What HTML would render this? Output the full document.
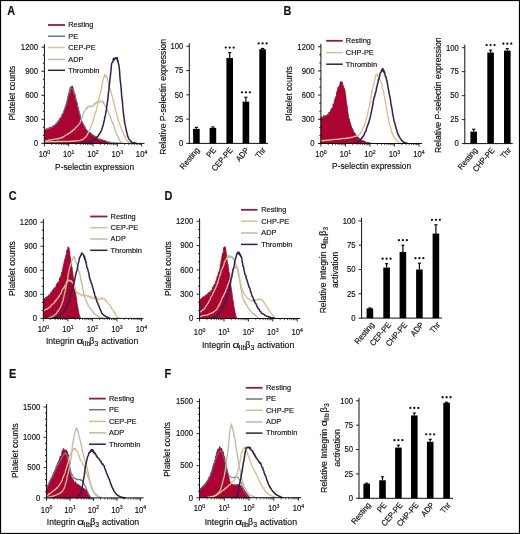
<!DOCTYPE html>
<html><head><meta charset="utf-8"><style>
html,body{margin:0;padding:0;background:#fff;}
svg{display:block;filter:blur(0.3px);}
text{font-family:"Liberation Sans", sans-serif;fill:#111;stroke:#111;stroke-width:0.16px;}
</style></head><body>
<svg width="520" height="534" viewBox="0 0 520 534">
<rect x="0" y="0" width="520" height="534" fill="#fff"/>
<path d="M44.40,129.37 L44.88,129.75 L45.37,129.05 L45.85,129.29 L46.33,128.73 L46.81,128.58 L47.30,129.56 L47.78,129.55 L48.26,127.80 L48.74,128.80 L49.23,128.70 L49.71,127.01 L50.19,127.87 L50.67,126.92 L51.16,127.42 L51.64,126.84 L52.12,127.59 L52.60,126.30 L53.09,125.51 L53.57,125.92 L54.05,125.13 L54.53,124.92 L55.02,125.85 L55.50,123.90 L55.98,123.80 L56.46,123.96 L56.95,124.07 L57.43,121.59 L57.91,121.93 L58.39,120.76 L58.88,119.76 L59.36,119.52 L59.84,118.32 L60.32,118.92 L60.81,117.11 L61.29,117.22 L61.77,115.04 L62.25,114.25 L62.74,115.40 L63.22,114.20 L63.70,112.74 L64.18,109.21 L64.67,109.32 L65.15,107.24 L65.63,106.65 L66.11,104.23 L66.60,102.72 L67.08,100.88 L67.56,98.15 L68.04,96.31 L68.53,93.51 L69.01,92.76 L69.49,90.22 L69.97,88.86 L70.46,86.90 L70.94,87.01 L71.42,88.37 L71.90,85.75 L72.39,86.00 L72.87,87.29 L73.35,89.85 L73.83,90.70 L74.32,93.93 L74.80,93.46 L75.28,96.39 L75.76,99.48 L76.25,102.25 L76.73,101.50 L77.21,102.87 L77.69,107.46 L78.18,107.01 L78.66,109.94 L79.14,112.46 L79.62,113.93 L80.11,114.64 L80.59,116.39 L81.07,120.33 L81.55,120.44 L82.04,123.04 L82.52,122.57 L83.00,124.44 L83.48,124.12 L83.97,124.74 L84.45,126.56 L84.93,126.32 L85.41,128.47 L85.90,129.62 L86.38,129.27 L86.86,130.95 L87.35,131.19 L87.83,131.31 L88.31,131.40 L88.79,132.59 L89.28,133.15 L89.76,132.12 L90.24,133.37 L90.72,132.64 L91.21,133.07 L91.69,134.21 L92.17,134.40 L92.65,134.65 L93.14,134.82 L93.62,135.26 L94.10,135.68 L94.58,135.97 L95.07,135.91 L95.55,136.85 L96.03,137.30 L96.51,137.26 L97.00,138.16 L97.48,138.35 L97.96,137.82 L98.44,138.55 L98.93,138.71 L99.41,139.46 L99.89,139.19 L100.37,139.16 L100.86,139.88 L101.34,139.41 L101.82,139.53 L102.30,140.23 L102.79,139.83 L103.27,140.14 L103.75,140.12 L104.23,140.60 L104.72,140.51 L105.20,140.73 L105.68,141.53 L106.16,141.73 L106.65,141.54 L107.13,141.60 L107.61,142.25 L108.09,142.31 L108.58,142.40 L109.06,142.68 L109.54,142.80 L110.02,142.94 L110.51,143.05 L110.99,143.11 L111.47,143.30 L111.95,143.40 L111.95,143.40 L44.40,143.40 Z" fill="#ab0432" stroke="#8a0f2c" stroke-width="0.8"/>
<path d="M44.40,129.77 L44.96,129.74 L45.51,129.08 L46.07,129.87 L46.62,129.02 L47.18,128.65 L47.73,129.04 L48.29,129.00 L48.84,128.07 L49.40,128.63 L49.95,128.51 L50.51,127.97 L51.07,127.38 L51.62,127.94 L52.18,127.35 L52.73,127.00 L53.29,125.93 L53.84,126.08 L54.40,125.03 L54.95,125.53 L55.51,124.76 L56.06,123.74 L56.62,122.79 L57.17,122.83 L57.73,122.53 L58.29,122.03 L58.84,120.67 L59.40,120.48 L59.95,118.61 L60.51,117.59 L61.06,117.69 L61.62,116.41 L62.17,114.27 L62.73,113.31 L63.28,111.68 L63.84,111.20 L64.40,110.23 L64.95,108.48 L65.51,105.97 L66.06,105.30 L66.62,103.15 L67.17,100.89 L67.73,98.78 L68.28,96.83 L68.84,93.85 L69.39,93.77 L69.95,92.27 L70.51,88.45 L71.06,87.92 L71.62,87.82 L72.17,89.79 L72.73,89.43 L73.28,90.65 L73.84,93.66 L74.39,93.77 L74.95,94.92 L75.50,96.93 L76.06,99.13 L76.61,101.72 L77.17,103.81 L77.73,106.33 L78.28,108.92 L78.84,110.11 L79.39,112.83 L79.95,114.14 L80.50,117.81 L81.06,118.46 L81.61,120.57 L82.17,121.62 L82.72,122.90 L83.28,123.99 L83.84,125.44 L84.39,127.15 L84.95,127.01 L85.50,128.62 L86.06,129.24 L86.61,129.51 L87.17,130.37 L87.72,131.13 L88.28,131.08 L88.83,131.99 L89.39,132.78 L89.95,133.34 L90.50,133.12 L91.06,133.95 L91.61,134.04 L92.17,134.88 L92.72,135.43 L93.28,135.51 L93.83,135.66 L94.39,136.66 L94.94,136.51 L95.50,136.79 L96.05,137.26 L96.61,137.60 L97.17,138.54 L97.72,138.33 L98.28,138.39 L98.83,139.18 L99.39,139.19 L99.94,139.35 L100.50,139.32 L101.05,139.54 L101.61,139.64 L102.16,139.57 L102.72,140.20 L103.28,140.30 L103.83,140.39 L104.39,140.54 L104.94,140.73 L105.50,140.37 L106.05,140.61 L106.61,141.19 L107.16,141.14 L107.72,141.40 L108.27,141.56 L108.83,141.70 L109.39,141.72 L109.94,141.89 L110.50,142.12 L111.05,142.30 L111.61,142.36 L112.16,142.52 L112.72,142.46 L113.27,142.48 L113.83,142.66 L114.38,142.81 L114.94,142.84 L115.49,142.84 L116.05,142.83 L116.61,142.84 L117.16,142.99 L117.72,142.95 L118.27,143.03 L118.83,143.12 L119.38,143.17 L119.94,143.20 L120.49,143.22 L121.05,143.30 L121.60,143.33 L122.16,143.40" fill="none" stroke="#6c7290" stroke-width="1.0" stroke-linejoin="round"/>
<path d="M44.40,141.15 L44.96,141.06 L45.52,141.07 L46.08,140.80 L46.64,140.61 L47.19,140.86 L47.75,140.56 L48.31,140.46 L48.87,140.09 L49.43,139.95 L49.99,140.20 L50.55,139.78 L51.11,139.74 L51.67,139.98 L52.22,139.75 L52.78,139.88 L53.34,139.32 L53.90,139.31 L54.46,139.05 L55.02,139.00 L55.58,138.98 L56.14,138.81 L56.70,138.81 L57.25,139.02 L57.81,138.54 L58.37,138.84 L58.93,138.60 L59.49,137.97 L60.05,138.38 L60.61,138.19 L61.17,138.03 L61.73,137.21 L62.28,137.59 L62.84,137.50 L63.40,136.55 L63.96,136.91 L64.52,135.97 L65.08,135.81 L65.64,135.32 L66.20,134.85 L66.76,134.85 L67.31,134.25 L67.87,134.65 L68.43,133.49 L68.99,133.35 L69.55,132.71 L70.11,132.97 L70.67,131.82 L71.23,131.16 L71.79,131.76 L72.34,131.01 L72.90,130.26 L73.46,129.46 L74.02,129.72 L74.58,129.30 L75.14,128.68 L75.70,127.65 L76.26,126.88 L76.82,126.77 L77.38,126.17 L77.93,125.47 L78.49,124.83 L79.05,124.00 L79.61,123.73 L80.17,122.23 L80.73,120.33 L81.29,119.85 L81.85,117.75 L82.41,117.17 L82.96,114.65 L83.52,113.05 L84.08,111.92 L84.64,111.21 L85.20,110.35 L85.76,109.14 L86.32,107.81 L86.88,108.61 L87.44,108.17 L87.99,106.46 L88.55,105.92 L89.11,106.60 L89.67,106.65 L90.23,106.00 L90.79,107.00 L91.35,106.72 L91.91,106.69 L92.47,105.61 L93.02,105.81 L93.58,105.56 L94.14,104.14 L94.70,103.15 L95.26,104.15 L95.82,102.85 L96.38,103.05 L96.94,101.68 L97.50,101.90 L98.05,102.31 L98.61,102.18 L99.17,102.37 L99.73,101.16 L100.29,101.20 L100.85,101.57 L101.41,101.14 L101.97,101.52 L102.53,101.10 L103.08,103.20 L103.64,102.11 L104.20,104.16 L104.76,105.04 L105.32,106.49 L105.88,106.86 L106.44,107.99 L107.00,109.62 L107.56,110.88 L108.11,111.58 L108.67,112.55 L109.23,114.68 L109.79,115.42 L110.35,116.44 L110.91,118.73 L111.47,120.58 L112.03,122.03 L112.59,122.76 L113.14,124.32 L113.70,125.47 L114.26,127.24 L114.82,129.65 L115.38,131.28 L115.94,132.70 L116.50,134.17 L117.06,134.93 L117.62,136.06 L118.17,137.26 L118.73,138.91 L119.29,139.53 L119.85,140.76 L120.41,141.42 L120.97,141.87 L121.53,142.59 L122.09,143.01 L122.65,143.40" fill="none" stroke="#b9c0a0" stroke-width="1.35" stroke-linejoin="round"/>
<path d="M44.40,141.80 L45.02,141.64 L45.63,141.87 L46.25,141.83 L46.86,141.72 L47.48,141.67 L48.10,141.96 L48.71,141.80 L49.33,141.75 L49.95,141.72 L50.56,141.84 L51.18,141.66 L51.79,141.49 L52.41,141.73 L53.03,141.66 L53.64,141.84 L54.26,141.76 L54.88,141.58 L55.49,141.82 L56.11,141.46 L56.72,141.44 L57.34,141.80 L57.96,141.41 L58.57,141.66 L59.19,141.47 L59.80,141.47 L60.42,141.67 L61.04,141.48 L61.65,141.48 L62.27,141.40 L62.89,141.64 L63.50,141.40 L64.12,141.29 L64.73,141.41 L65.35,141.46 L65.97,141.65 L66.58,141.45 L67.20,141.51 L67.81,141.31 L68.43,141.32 L69.05,141.35 L69.66,141.52 L70.28,141.27 L70.90,141.24 L71.51,141.43 L72.13,141.04 L72.74,141.11 L73.36,141.33 L73.98,140.86 L74.59,141.22 L75.21,141.06 L75.83,140.78 L76.44,140.78 L77.06,140.73 L77.67,140.59 L78.29,140.62 L78.91,140.61 L79.52,140.60 L80.14,140.57 L80.75,140.08 L81.37,139.91 L81.99,139.80 L82.60,139.35 L83.22,139.21 L83.84,138.83 L84.45,138.24 L85.07,137.29 L85.68,137.40 L86.30,136.30 L86.92,135.61 L87.53,133.99 L88.15,133.19 L88.76,131.91 L89.38,130.47 L90.00,128.87 L90.61,127.04 L91.23,126.01 L91.85,123.59 L92.46,122.94 L93.08,120.86 L93.69,119.26 L94.31,117.30 L94.93,114.10 L95.54,112.11 L96.16,110.97 L96.78,108.64 L97.39,105.72 L98.01,102.48 L98.62,99.69 L99.24,97.19 L99.86,94.91 L100.47,93.39 L101.09,90.14 L101.70,87.50 L102.32,83.22 L102.94,79.83 L103.55,78.11 L104.17,76.19 L104.79,74.21 L105.40,76.72 L106.02,75.47 L106.63,76.57 L107.25,78.11 L107.87,81.60 L108.48,83.29 L109.10,85.45 L109.71,87.59 L110.33,88.95 L110.95,91.75 L111.56,94.72 L112.18,95.61 L112.80,98.82 L113.41,100.99 L114.03,103.22 L114.64,107.26 L115.26,108.20 L115.88,110.91 L116.49,113.63 L117.11,115.87 L117.73,118.13 L118.34,120.54 L118.96,121.85 L119.57,124.41 L120.19,125.46 L120.81,126.96 L121.42,128.85 L122.04,130.26 L122.65,131.29 L123.27,132.79 L123.89,134.90 L124.50,135.51 L125.12,136.89 L125.74,138.52 L126.35,139.35 L126.97,140.40 L127.58,141.30 L128.20,141.75 L128.82,142.12 L129.43,142.72 L130.05,142.95 L130.66,143.40" fill="none" stroke="#dcbc92" stroke-width="1.35" stroke-linejoin="round"/>
<path d="M80.85,143.40 L81.25,143.32 L81.65,143.32 L82.05,143.16 L82.45,143.14 L82.85,143.02 L83.25,143.01 L83.64,142.94 L84.04,142.98 L84.44,142.82 L84.84,142.73 L85.24,142.69 L85.64,142.75 L86.04,142.60 L86.44,142.62 L86.84,142.67 L87.24,142.64 L87.64,142.56 L88.04,142.46 L88.44,142.40 L88.83,142.20 L89.23,142.04 L89.63,142.01 L90.03,141.96 L90.43,141.77 L90.83,141.80 L91.23,141.58 L91.63,141.26 L92.03,141.21 L92.43,141.09 L92.83,140.42 L93.23,140.22 L93.62,140.12 L94.02,139.79 L94.42,139.35 L94.82,138.95 L95.22,138.86 L95.62,138.67 L96.02,138.13 L96.42,137.26 L96.82,137.37 L97.22,136.65 L97.62,136.42 L98.02,135.92 L98.42,135.44 L98.81,134.66 L99.21,134.32 L99.61,133.87 L100.01,133.14 L100.41,132.39 L100.81,131.29 L101.21,131.05 L101.61,130.25 L102.01,128.68 L102.41,127.55 L102.81,125.81 L103.21,125.29 L103.61,123.18 L104.00,121.50 L104.40,120.32 L104.80,116.85 L105.20,116.19 L105.60,114.42 L106.00,111.52 L106.40,109.63 L106.80,105.94 L107.20,103.54 L107.60,100.88 L108.00,97.78 L108.40,92.81 L108.79,90.48 L109.19,85.75 L109.59,83.19 L109.99,78.44 L110.39,76.05 L110.79,71.95 L111.19,68.11 L111.59,63.74 L111.99,62.83 L112.39,62.56 L112.79,62.41 L113.19,59.81 L113.59,58.24 L113.98,58.76 L114.38,59.93 L114.78,59.20 L115.18,58.48 L115.58,57.90 L115.98,58.28 L116.38,58.60 L116.78,57.47 L117.18,57.79 L117.58,61.31 L117.98,60.46 L118.38,63.64 L118.78,64.61 L119.17,67.20 L119.57,70.85 L119.97,77.63 L120.37,81.37 L120.77,85.11 L121.17,88.61 L121.57,94.64 L121.97,98.17 L122.37,101.15 L122.77,106.96 L123.17,110.50 L123.57,114.46 L123.97,117.31 L124.36,119.85 L124.76,123.36 L125.16,124.64 L125.56,126.71 L125.96,128.55 L126.36,130.76 L126.76,132.06 L127.16,134.24 L127.56,135.58 L127.96,136.96 L128.36,137.52 L128.76,138.58 L129.15,139.35 L129.55,139.95 L129.95,140.11 L130.35,140.64 L130.75,141.02 L131.15,141.55 L131.55,141.83 L131.95,142.25 L132.35,142.28 L132.75,142.70 L133.15,142.70 L133.55,142.74 L133.95,142.87 L134.34,143.08 L134.74,143.12 L135.14,143.07 L135.54,143.17 L135.94,143.21 L136.34,143.29 L136.74,143.40" fill="none" stroke="#30204a" stroke-width="1.5" stroke-linejoin="round"/>
<line x1="44.40" y1="44.16" x2="44.40" y2="143.90" stroke="#111" stroke-width="1.0"/>
<line x1="43.90" y1="143.40" x2="144.50" y2="143.40" stroke="#111" stroke-width="1.0"/>
<line x1="41.40" y1="143.40" x2="44.40" y2="143.40" stroke="#111" stroke-width="0.9"/>
<text transform="translate(38.00 146.20) scale(0.93 1)" font-size="8.3" text-anchor="end">0</text>
<line x1="42.80" y1="135.38" x2="44.40" y2="135.38" stroke="#111" stroke-width="0.9"/>
<line x1="42.80" y1="127.36" x2="44.40" y2="127.36" stroke="#111" stroke-width="0.9"/>
<line x1="41.40" y1="119.34" x2="44.40" y2="119.34" stroke="#111" stroke-width="0.9"/>
<text transform="translate(38.00 122.14) scale(0.93 1)" font-size="8.3" text-anchor="end">300</text>
<line x1="42.80" y1="111.32" x2="44.40" y2="111.32" stroke="#111" stroke-width="0.9"/>
<line x1="42.80" y1="103.30" x2="44.40" y2="103.30" stroke="#111" stroke-width="0.9"/>
<line x1="41.40" y1="95.28" x2="44.40" y2="95.28" stroke="#111" stroke-width="0.9"/>
<text transform="translate(38.00 98.08) scale(0.93 1)" font-size="8.3" text-anchor="end">600</text>
<line x1="42.80" y1="87.26" x2="44.40" y2="87.26" stroke="#111" stroke-width="0.9"/>
<line x1="42.80" y1="79.24" x2="44.40" y2="79.24" stroke="#111" stroke-width="0.9"/>
<line x1="41.40" y1="71.22" x2="44.40" y2="71.22" stroke="#111" stroke-width="0.9"/>
<text transform="translate(38.00 74.02) scale(0.93 1)" font-size="8.3" text-anchor="end">900</text>
<line x1="42.80" y1="63.20" x2="44.40" y2="63.20" stroke="#111" stroke-width="0.9"/>
<line x1="42.80" y1="55.18" x2="44.40" y2="55.18" stroke="#111" stroke-width="0.9"/>
<line x1="41.40" y1="47.16" x2="44.40" y2="47.16" stroke="#111" stroke-width="0.9"/>
<text transform="translate(38.00 49.96) scale(0.93 1)" font-size="8.3" text-anchor="end">1200</text>
<line x1="44.40" y1="143.40" x2="44.40" y2="146.40" stroke="#111" stroke-width="0.9"/>
<line x1="51.72" y1="143.40" x2="51.72" y2="145.10" stroke="#111" stroke-width="0.7"/>
<line x1="55.99" y1="143.40" x2="55.99" y2="145.10" stroke="#111" stroke-width="0.7"/>
<line x1="59.03" y1="143.40" x2="59.03" y2="145.10" stroke="#111" stroke-width="0.7"/>
<line x1="61.38" y1="143.40" x2="61.38" y2="145.10" stroke="#111" stroke-width="0.7"/>
<line x1="63.31" y1="143.40" x2="63.31" y2="145.10" stroke="#111" stroke-width="0.7"/>
<line x1="64.94" y1="143.40" x2="64.94" y2="145.10" stroke="#111" stroke-width="0.7"/>
<line x1="66.35" y1="143.40" x2="66.35" y2="145.10" stroke="#111" stroke-width="0.7"/>
<line x1="67.59" y1="143.40" x2="67.59" y2="145.10" stroke="#111" stroke-width="0.7"/>
<text transform="translate(44.40 156.80) scale(0.93 1)" font-size="8.3" text-anchor="middle">10<tspan font-size="5.6" dy="-3.3">0</tspan></text>
<line x1="68.70" y1="143.40" x2="68.70" y2="146.40" stroke="#111" stroke-width="0.9"/>
<line x1="76.02" y1="143.40" x2="76.02" y2="145.10" stroke="#111" stroke-width="0.7"/>
<line x1="80.29" y1="143.40" x2="80.29" y2="145.10" stroke="#111" stroke-width="0.7"/>
<line x1="83.33" y1="143.40" x2="83.33" y2="145.10" stroke="#111" stroke-width="0.7"/>
<line x1="85.68" y1="143.40" x2="85.68" y2="145.10" stroke="#111" stroke-width="0.7"/>
<line x1="87.61" y1="143.40" x2="87.61" y2="145.10" stroke="#111" stroke-width="0.7"/>
<line x1="89.24" y1="143.40" x2="89.24" y2="145.10" stroke="#111" stroke-width="0.7"/>
<line x1="90.65" y1="143.40" x2="90.65" y2="145.10" stroke="#111" stroke-width="0.7"/>
<line x1="91.89" y1="143.40" x2="91.89" y2="145.10" stroke="#111" stroke-width="0.7"/>
<text transform="translate(68.70 156.80) scale(0.93 1)" font-size="8.3" text-anchor="middle">10<tspan font-size="5.6" dy="-3.3">1</tspan></text>
<line x1="93.00" y1="143.40" x2="93.00" y2="146.40" stroke="#111" stroke-width="0.9"/>
<line x1="100.32" y1="143.40" x2="100.32" y2="145.10" stroke="#111" stroke-width="0.7"/>
<line x1="104.59" y1="143.40" x2="104.59" y2="145.10" stroke="#111" stroke-width="0.7"/>
<line x1="107.63" y1="143.40" x2="107.63" y2="145.10" stroke="#111" stroke-width="0.7"/>
<line x1="109.98" y1="143.40" x2="109.98" y2="145.10" stroke="#111" stroke-width="0.7"/>
<line x1="111.91" y1="143.40" x2="111.91" y2="145.10" stroke="#111" stroke-width="0.7"/>
<line x1="113.54" y1="143.40" x2="113.54" y2="145.10" stroke="#111" stroke-width="0.7"/>
<line x1="114.95" y1="143.40" x2="114.95" y2="145.10" stroke="#111" stroke-width="0.7"/>
<line x1="116.19" y1="143.40" x2="116.19" y2="145.10" stroke="#111" stroke-width="0.7"/>
<text transform="translate(93.00 156.80) scale(0.93 1)" font-size="8.3" text-anchor="middle">10<tspan font-size="5.6" dy="-3.3">2</tspan></text>
<line x1="117.30" y1="143.40" x2="117.30" y2="146.40" stroke="#111" stroke-width="0.9"/>
<line x1="124.62" y1="143.40" x2="124.62" y2="145.10" stroke="#111" stroke-width="0.7"/>
<line x1="128.89" y1="143.40" x2="128.89" y2="145.10" stroke="#111" stroke-width="0.7"/>
<line x1="131.93" y1="143.40" x2="131.93" y2="145.10" stroke="#111" stroke-width="0.7"/>
<line x1="134.28" y1="143.40" x2="134.28" y2="145.10" stroke="#111" stroke-width="0.7"/>
<line x1="136.21" y1="143.40" x2="136.21" y2="145.10" stroke="#111" stroke-width="0.7"/>
<line x1="137.84" y1="143.40" x2="137.84" y2="145.10" stroke="#111" stroke-width="0.7"/>
<line x1="139.25" y1="143.40" x2="139.25" y2="145.10" stroke="#111" stroke-width="0.7"/>
<line x1="140.49" y1="143.40" x2="140.49" y2="145.10" stroke="#111" stroke-width="0.7"/>
<text transform="translate(117.30 156.80) scale(0.93 1)" font-size="8.3" text-anchor="middle">10<tspan font-size="5.6" dy="-3.3">3</tspan></text>
<line x1="141.60" y1="143.40" x2="141.60" y2="146.40" stroke="#111" stroke-width="0.9"/>
<text transform="translate(141.60 156.80) scale(0.93 1)" font-size="8.3" text-anchor="middle">10<tspan font-size="5.6" dy="-3.3">4</tspan></text>
<text transform="translate(14.80 93.10) rotate(-90) scale(0.9 1)" font-size="9.3" text-anchor="middle">Platelet counts</text>
<text transform="translate(94.60 169.50) scale(0.895 1)" font-size="9.3" text-anchor="middle">P-selectin expression</text>
<line x1="48.00" y1="25.00" x2="65.00" y2="25.00" stroke="#8e1e3e" stroke-width="1.8"/>
<text transform="translate(68.20 27.30) scale(0.95 1)" font-size="7.8" text-anchor="start">Resting</text>
<line x1="48.00" y1="36.20" x2="65.00" y2="36.20" stroke="#6c7290" stroke-width="1.5"/>
<text transform="translate(68.20 38.50) scale(0.95 1)" font-size="7.8" text-anchor="start">PE</text>
<line x1="48.00" y1="47.50" x2="65.00" y2="47.50" stroke="#dcbc92" stroke-width="1.5"/>
<text transform="translate(68.20 49.80) scale(0.95 1)" font-size="7.8" text-anchor="start">CEP-PE</text>
<line x1="48.00" y1="59.40" x2="65.00" y2="59.40" stroke="#b9c0a0" stroke-width="1.5"/>
<text transform="translate(68.20 61.70) scale(0.95 1)" font-size="7.8" text-anchor="start">ADP</text>
<line x1="48.00" y1="70.30" x2="65.00" y2="70.30" stroke="#30204a" stroke-width="1.5"/>
<text transform="translate(68.20 72.60) scale(0.95 1)" font-size="7.8" text-anchor="start">Thrombin</text>
<line x1="189.30" y1="43.30" x2="189.30" y2="143.90" stroke="#111" stroke-width="1.0"/>
<line x1="188.80" y1="143.40" x2="268.00" y2="143.40" stroke="#111" stroke-width="1.0"/>
<line x1="186.30" y1="143.40" x2="189.30" y2="143.40" stroke="#111" stroke-width="0.9"/>
<text transform="translate(183.30 146.20) scale(0.93 1)" font-size="8.3" text-anchor="end">0</text>
<line x1="186.30" y1="119.12" x2="189.30" y2="119.12" stroke="#111" stroke-width="0.9"/>
<text transform="translate(183.30 121.92) scale(0.93 1)" font-size="8.3" text-anchor="end">25</text>
<line x1="186.30" y1="94.85" x2="189.30" y2="94.85" stroke="#111" stroke-width="0.9"/>
<text transform="translate(183.30 97.65) scale(0.93 1)" font-size="8.3" text-anchor="end">50</text>
<line x1="186.30" y1="70.58" x2="189.30" y2="70.58" stroke="#111" stroke-width="0.9"/>
<text transform="translate(183.30 73.38) scale(0.93 1)" font-size="8.3" text-anchor="end">75</text>
<line x1="186.30" y1="46.30" x2="189.30" y2="46.30" stroke="#111" stroke-width="0.9"/>
<text transform="translate(183.30 49.10) scale(0.93 1)" font-size="8.3" text-anchor="end">100</text>
<rect x="193.10" y="128.84" width="6.6" height="14.56" fill="#000"/>
<line x1="196.40" y1="128.84" x2="196.40" y2="127.38" stroke="#000" stroke-width="1.2"/>
<line x1="194.80" y1="127.38" x2="198.00" y2="127.38" stroke="#000" stroke-width="1.1"/>
<text transform="translate(200.00 150.40) rotate(-50) scale(0.92 1)" font-size="8.2" text-anchor="end">Resting</text>
<rect x="209.60" y="127.86" width="6.6" height="15.54" fill="#000"/>
<line x1="212.90" y1="127.86" x2="212.90" y2="126.89" stroke="#000" stroke-width="1.2"/>
<line x1="211.30" y1="126.89" x2="214.50" y2="126.89" stroke="#000" stroke-width="1.1"/>
<text transform="translate(216.50 150.40) rotate(-50) scale(0.92 1)" font-size="8.2" text-anchor="end">PE</text>
<rect x="226.40" y="57.95" width="6.6" height="85.45" fill="#000"/>
<line x1="229.70" y1="57.95" x2="229.70" y2="52.61" stroke="#000" stroke-width="1.2"/>
<line x1="228.10" y1="52.61" x2="231.30" y2="52.61" stroke="#000" stroke-width="1.1"/>
<circle cx="225.75" cy="47.61" r="1.15" fill="#111"/>
<circle cx="229.70" cy="47.61" r="1.15" fill="#111"/>
<circle cx="233.65" cy="47.61" r="1.15" fill="#111"/>
<text transform="translate(233.30 150.40) rotate(-50) scale(0.92 1)" font-size="8.2" text-anchor="end">CEP-PE</text>
<rect x="242.60" y="101.65" width="6.6" height="41.75" fill="#000"/>
<line x1="245.90" y1="101.65" x2="245.90" y2="97.28" stroke="#000" stroke-width="1.2"/>
<line x1="244.30" y1="97.28" x2="247.50" y2="97.28" stroke="#000" stroke-width="1.1"/>
<circle cx="241.95" cy="92.28" r="1.15" fill="#111"/>
<circle cx="245.90" cy="92.28" r="1.15" fill="#111"/>
<circle cx="249.85" cy="92.28" r="1.15" fill="#111"/>
<text transform="translate(249.50 150.40) rotate(-50) scale(0.92 1)" font-size="8.2" text-anchor="end">ADP</text>
<rect x="259.30" y="49.21" width="6.6" height="94.19" fill="#000"/>
<line x1="262.60" y1="49.21" x2="262.60" y2="48.44" stroke="#000" stroke-width="1.2"/>
<line x1="261.00" y1="48.44" x2="264.20" y2="48.44" stroke="#000" stroke-width="1.1"/>
<circle cx="258.65" cy="43.44" r="1.15" fill="#111"/>
<circle cx="262.60" cy="43.44" r="1.15" fill="#111"/>
<circle cx="266.55" cy="43.44" r="1.15" fill="#111"/>
<text transform="translate(266.20 150.40) rotate(-50) scale(0.92 1)" font-size="8.2" text-anchor="end">Thr</text>
<text transform="translate(165.70 96.90) rotate(-90) scale(0.93 1)" font-size="9.3" text-anchor="middle">Relative P-selectin expression</text>
<path d="M320.90,117.87 L321.28,117.80 L321.67,116.45 L322.05,116.69 L322.44,117.56 L322.82,117.30 L323.21,117.92 L323.59,116.90 L323.98,115.25 L324.36,117.35 L324.75,115.94 L325.13,116.99 L325.52,116.88 L325.90,115.16 L326.29,116.05 L326.67,116.36 L327.06,115.84 L327.44,114.24 L327.83,114.13 L328.21,115.42 L328.60,114.50 L328.98,112.04 L329.37,113.66 L329.75,112.13 L330.14,111.90 L330.52,110.15 L330.91,109.90 L331.29,108.53 L331.68,108.42 L332.06,108.59 L332.45,107.71 L332.83,107.08 L333.22,103.76 L333.60,105.07 L333.99,104.40 L334.38,100.19 L334.76,101.46 L335.14,97.72 L335.53,99.03 L335.91,96.22 L336.30,95.59 L336.69,91.96 L337.07,91.37 L337.45,90.03 L337.84,88.51 L338.22,87.05 L338.61,87.99 L339.00,85.94 L339.38,85.52 L339.76,85.89 L340.15,82.20 L340.53,82.48 L340.92,81.11 L341.30,83.29 L341.69,81.97 L342.07,82.59 L342.46,82.13 L342.84,85.52 L343.23,85.46 L343.62,86.07 L344.00,88.91 L344.38,88.39 L344.77,89.10 L345.15,92.24 L345.54,94.02 L345.92,97.17 L346.31,101.67 L346.69,104.33 L347.08,105.18 L347.46,109.63 L347.85,111.63 L348.23,114.87 L348.62,116.69 L349.00,118.92 L349.39,118.97 L349.77,121.29 L350.16,122.52 L350.54,123.56 L350.93,125.47 L351.31,125.83 L351.70,127.62 L352.08,128.76 L352.47,128.60 L352.85,129.51 L353.24,130.20 L353.62,131.75 L354.01,131.91 L354.39,133.15 L354.78,132.77 L355.16,133.45 L355.55,134.92 L355.94,134.43 L356.32,135.98 L356.70,136.53 L357.09,136.07 L357.47,137.04 L357.86,137.11 L358.25,137.32 L358.63,138.39 L359.01,137.87 L359.40,138.72 L359.78,138.83 L360.17,139.20 L360.56,139.04 L360.94,139.28 L361.32,139.98 L361.71,140.38 L362.09,140.41 L362.48,140.52 L362.87,141.01 L363.25,141.13 L363.63,140.81 L364.02,141.05 L364.40,141.02 L364.79,141.19 L365.17,141.43 L365.56,141.91 L365.94,142.17 L366.33,142.20 L366.71,142.22 L367.10,142.30 L367.49,142.40 L367.87,142.60 L368.25,142.45 L368.64,142.81 L369.02,142.82 L369.41,142.73 L369.79,142.85 L370.18,143.11 L370.56,143.18 L370.95,143.06 L371.33,143.34 L371.72,143.34 L372.10,143.28 L372.49,143.31 L372.88,143.42 L373.26,143.46 L373.64,143.45 L374.03,143.40 L374.41,143.47 L374.80,143.50 L374.80,143.50 L320.90,143.50 Z" fill="#ab0432" stroke="#8a0f2c" stroke-width="0.8"/>
<path d="M320.90,140.76 L321.47,140.43 L322.04,140.48 L322.61,140.31 L323.17,140.81 L323.74,140.67 L324.31,140.72 L324.88,140.42 L325.45,140.43 L326.02,140.55 L326.59,140.20 L327.16,140.43 L327.72,140.25 L328.29,140.24 L328.86,139.84 L329.43,140.03 L330.00,140.09 L330.57,140.18 L331.14,139.88 L331.71,139.70 L332.27,139.62 L332.84,139.41 L333.41,139.43 L333.98,139.75 L334.55,139.78 L335.12,139.30 L335.69,139.23 L336.26,139.37 L336.82,139.09 L337.39,139.23 L337.96,139.37 L338.53,139.39 L339.10,139.44 L339.67,138.93 L340.24,138.69 L340.81,138.62 L341.38,138.88 L341.94,138.67 L342.51,138.40 L343.08,138.42 L343.65,138.51 L344.22,138.58 L344.79,138.43 L345.36,138.63 L345.92,138.54 L346.49,138.08 L347.06,137.75 L347.63,138.02 L348.20,138.05 L348.77,138.01 L349.34,137.84 L349.91,137.46 L350.47,137.65 L351.04,137.12 L351.61,137.68 L352.18,137.43 L352.75,137.13 L353.32,137.09 L353.89,136.56 L354.46,136.43 L355.02,136.17 L355.59,136.28 L356.16,136.62 L356.73,135.92 L357.30,135.73 L357.87,135.57 L358.44,135.50 L359.01,134.65 L359.57,133.85 L360.14,133.98 L360.71,132.51 L361.28,131.90 L361.85,130.69 L362.42,129.09 L362.99,127.83 L363.56,127.05 L364.12,126.36 L364.69,123.76 L365.26,123.15 L365.83,120.95 L366.40,118.17 L366.97,116.89 L367.54,114.72 L368.11,111.10 L368.67,108.68 L369.24,107.41 L369.81,104.22 L370.38,101.08 L370.95,97.91 L371.52,94.18 L372.09,89.18 L372.66,88.73 L373.22,86.12 L373.79,83.95 L374.36,82.06 L374.93,78.79 L375.50,76.43 L376.07,74.82 L376.64,74.61 L377.21,73.96 L377.77,76.59 L378.34,76.50 L378.91,75.58 L379.48,79.22 L380.05,79.99 L380.62,80.80 L381.19,82.85 L381.76,84.01 L382.32,87.62 L382.89,89.76 L383.46,90.83 L384.03,95.76 L384.60,96.96 L385.17,101.49 L385.74,102.76 L386.31,106.76 L386.88,110.23 L387.44,114.56 L388.01,117.88 L388.58,119.57 L389.15,122.98 L389.72,125.21 L390.29,126.51 L390.86,128.56 L391.42,131.51 L391.99,132.17 L392.56,134.12 L393.13,135.47 L393.70,136.70 L394.27,137.34 L394.84,137.68 L395.41,138.98 L395.97,139.77 L396.54,140.38 L397.11,140.97 L397.68,141.39 L398.25,141.66 L398.82,142.50 L399.39,142.85 L399.96,143.03 L400.52,143.50" fill="none" stroke="#dcbc92" stroke-width="1.35" stroke-linejoin="round"/>
<path d="M352.75,143.50 L353.14,143.35 L353.54,143.25 L353.93,143.28 L354.32,143.18 L354.72,142.98 L355.11,143.00 L355.51,142.86 L355.90,142.88 L356.29,142.88 L356.69,142.68 L357.08,142.43 L357.47,142.28 L357.87,142.21 L358.26,142.09 L358.66,141.84 L359.05,141.60 L359.44,141.21 L359.84,140.64 L360.23,140.56 L360.62,139.84 L361.02,139.07 L361.41,138.55 L361.81,138.47 L362.20,137.23 L362.59,136.68 L362.99,136.64 L363.38,135.91 L363.77,135.32 L364.17,134.77 L364.56,133.02 L364.96,132.81 L365.35,131.40 L365.74,131.38 L366.14,130.55 L366.53,128.45 L366.92,127.47 L367.32,126.08 L367.71,125.36 L368.11,124.41 L368.50,122.83 L368.89,122.63 L369.29,120.58 L369.68,119.27 L370.07,118.18 L370.47,115.68 L370.86,114.40 L371.26,112.21 L371.65,110.56 L372.04,108.75 L372.44,106.74 L372.83,104.31 L373.22,101.58 L373.62,99.81 L374.01,98.18 L374.41,96.54 L374.80,96.13 L375.19,92.79 L375.59,92.80 L375.98,91.47 L376.38,88.85 L376.77,86.59 L377.16,85.95 L377.56,83.55 L377.95,82.95 L378.34,79.61 L378.74,79.55 L379.13,78.10 L379.52,76.66 L379.92,74.45 L380.31,72.80 L380.71,72.77 L381.10,71.79 L381.49,70.23 L381.89,71.08 L382.28,69.67 L382.67,68.49 L383.07,69.06 L383.46,71.78 L383.86,70.29 L384.25,72.64 L384.64,72.03 L385.04,74.94 L385.43,76.55 L385.82,76.84 L386.22,77.33 L386.61,80.17 L387.01,80.77 L387.40,83.10 L387.79,86.03 L388.19,88.28 L388.58,89.92 L388.97,92.38 L389.37,94.64 L389.76,96.17 L390.16,97.81 L390.55,100.56 L390.94,103.66 L391.34,105.73 L391.73,107.72 L392.12,109.58 L392.52,112.84 L392.91,115.20 L393.31,116.95 L393.70,119.06 L394.09,121.34 L394.49,122.20 L394.88,123.21 L395.27,125.36 L395.67,126.60 L396.06,127.95 L396.46,129.34 L396.85,130.58 L397.24,132.35 L397.64,133.18 L398.03,134.74 L398.42,134.81 L398.82,136.01 L399.21,136.59 L399.61,136.89 L400.00,138.02 L400.39,138.68 L400.79,138.77 L401.18,139.46 L401.57,140.28 L401.97,140.75 L402.36,140.97 L402.76,141.51 L403.15,141.44 L403.54,142.02 L403.94,142.21 L404.33,142.36 L404.72,142.49 L405.12,142.67 L405.51,142.75 L405.91,142.87 L406.30,143.04 L406.69,143.22 L407.09,143.17 L407.48,143.35 L407.88,143.50" fill="none" stroke="#30204a" stroke-width="1.5" stroke-linejoin="round"/>
<line x1="320.90" y1="43.78" x2="320.90" y2="144.00" stroke="#111" stroke-width="1.0"/>
<line x1="320.40" y1="143.50" x2="422.00" y2="143.50" stroke="#111" stroke-width="1.0"/>
<line x1="317.90" y1="143.50" x2="320.90" y2="143.50" stroke="#111" stroke-width="0.9"/>
<text transform="translate(314.50 146.30) scale(0.93 1)" font-size="8.3" text-anchor="end">0</text>
<line x1="319.30" y1="135.44" x2="320.90" y2="135.44" stroke="#111" stroke-width="0.9"/>
<line x1="319.30" y1="127.38" x2="320.90" y2="127.38" stroke="#111" stroke-width="0.9"/>
<line x1="317.90" y1="119.32" x2="320.90" y2="119.32" stroke="#111" stroke-width="0.9"/>
<text transform="translate(314.50 122.12) scale(0.93 1)" font-size="8.3" text-anchor="end">300</text>
<line x1="319.30" y1="111.26" x2="320.90" y2="111.26" stroke="#111" stroke-width="0.9"/>
<line x1="319.30" y1="103.20" x2="320.90" y2="103.20" stroke="#111" stroke-width="0.9"/>
<line x1="317.90" y1="95.14" x2="320.90" y2="95.14" stroke="#111" stroke-width="0.9"/>
<text transform="translate(314.50 97.94) scale(0.93 1)" font-size="8.3" text-anchor="end">600</text>
<line x1="319.30" y1="87.08" x2="320.90" y2="87.08" stroke="#111" stroke-width="0.9"/>
<line x1="319.30" y1="79.02" x2="320.90" y2="79.02" stroke="#111" stroke-width="0.9"/>
<line x1="317.90" y1="70.96" x2="320.90" y2="70.96" stroke="#111" stroke-width="0.9"/>
<text transform="translate(314.50 73.76) scale(0.93 1)" font-size="8.3" text-anchor="end">900</text>
<line x1="319.30" y1="62.90" x2="320.90" y2="62.90" stroke="#111" stroke-width="0.9"/>
<line x1="319.30" y1="54.84" x2="320.90" y2="54.84" stroke="#111" stroke-width="0.9"/>
<line x1="317.90" y1="46.78" x2="320.90" y2="46.78" stroke="#111" stroke-width="0.9"/>
<text transform="translate(314.50 49.58) scale(0.93 1)" font-size="8.3" text-anchor="end">1200</text>
<line x1="320.90" y1="143.50" x2="320.90" y2="146.50" stroke="#111" stroke-width="0.9"/>
<line x1="328.28" y1="143.50" x2="328.28" y2="145.20" stroke="#111" stroke-width="0.7"/>
<line x1="332.59" y1="143.50" x2="332.59" y2="145.20" stroke="#111" stroke-width="0.7"/>
<line x1="335.65" y1="143.50" x2="335.65" y2="145.20" stroke="#111" stroke-width="0.7"/>
<line x1="338.02" y1="143.50" x2="338.02" y2="145.20" stroke="#111" stroke-width="0.7"/>
<line x1="339.96" y1="143.50" x2="339.96" y2="145.20" stroke="#111" stroke-width="0.7"/>
<line x1="341.60" y1="143.50" x2="341.60" y2="145.20" stroke="#111" stroke-width="0.7"/>
<line x1="343.03" y1="143.50" x2="343.03" y2="145.20" stroke="#111" stroke-width="0.7"/>
<line x1="344.28" y1="143.50" x2="344.28" y2="145.20" stroke="#111" stroke-width="0.7"/>
<text transform="translate(320.90 156.90) scale(0.93 1)" font-size="8.3" text-anchor="middle">10<tspan font-size="5.6" dy="-3.3">0</tspan></text>
<line x1="345.40" y1="143.50" x2="345.40" y2="146.50" stroke="#111" stroke-width="0.9"/>
<line x1="352.78" y1="143.50" x2="352.78" y2="145.20" stroke="#111" stroke-width="0.7"/>
<line x1="357.09" y1="143.50" x2="357.09" y2="145.20" stroke="#111" stroke-width="0.7"/>
<line x1="360.15" y1="143.50" x2="360.15" y2="145.20" stroke="#111" stroke-width="0.7"/>
<line x1="362.52" y1="143.50" x2="362.52" y2="145.20" stroke="#111" stroke-width="0.7"/>
<line x1="364.46" y1="143.50" x2="364.46" y2="145.20" stroke="#111" stroke-width="0.7"/>
<line x1="366.10" y1="143.50" x2="366.10" y2="145.20" stroke="#111" stroke-width="0.7"/>
<line x1="367.53" y1="143.50" x2="367.53" y2="145.20" stroke="#111" stroke-width="0.7"/>
<line x1="368.78" y1="143.50" x2="368.78" y2="145.20" stroke="#111" stroke-width="0.7"/>
<text transform="translate(345.40 156.90) scale(0.93 1)" font-size="8.3" text-anchor="middle">10<tspan font-size="5.6" dy="-3.3">1</tspan></text>
<line x1="369.90" y1="143.50" x2="369.90" y2="146.50" stroke="#111" stroke-width="0.9"/>
<line x1="377.28" y1="143.50" x2="377.28" y2="145.20" stroke="#111" stroke-width="0.7"/>
<line x1="381.59" y1="143.50" x2="381.59" y2="145.20" stroke="#111" stroke-width="0.7"/>
<line x1="384.65" y1="143.50" x2="384.65" y2="145.20" stroke="#111" stroke-width="0.7"/>
<line x1="387.02" y1="143.50" x2="387.02" y2="145.20" stroke="#111" stroke-width="0.7"/>
<line x1="388.96" y1="143.50" x2="388.96" y2="145.20" stroke="#111" stroke-width="0.7"/>
<line x1="390.60" y1="143.50" x2="390.60" y2="145.20" stroke="#111" stroke-width="0.7"/>
<line x1="392.03" y1="143.50" x2="392.03" y2="145.20" stroke="#111" stroke-width="0.7"/>
<line x1="393.28" y1="143.50" x2="393.28" y2="145.20" stroke="#111" stroke-width="0.7"/>
<text transform="translate(369.90 156.90) scale(0.93 1)" font-size="8.3" text-anchor="middle">10<tspan font-size="5.6" dy="-3.3">2</tspan></text>
<line x1="394.40" y1="143.50" x2="394.40" y2="146.50" stroke="#111" stroke-width="0.9"/>
<line x1="401.78" y1="143.50" x2="401.78" y2="145.20" stroke="#111" stroke-width="0.7"/>
<line x1="406.09" y1="143.50" x2="406.09" y2="145.20" stroke="#111" stroke-width="0.7"/>
<line x1="409.15" y1="143.50" x2="409.15" y2="145.20" stroke="#111" stroke-width="0.7"/>
<line x1="411.52" y1="143.50" x2="411.52" y2="145.20" stroke="#111" stroke-width="0.7"/>
<line x1="413.46" y1="143.50" x2="413.46" y2="145.20" stroke="#111" stroke-width="0.7"/>
<line x1="415.10" y1="143.50" x2="415.10" y2="145.20" stroke="#111" stroke-width="0.7"/>
<line x1="416.53" y1="143.50" x2="416.53" y2="145.20" stroke="#111" stroke-width="0.7"/>
<line x1="417.78" y1="143.50" x2="417.78" y2="145.20" stroke="#111" stroke-width="0.7"/>
<text transform="translate(394.40 156.90) scale(0.93 1)" font-size="8.3" text-anchor="middle">10<tspan font-size="5.6" dy="-3.3">3</tspan></text>
<line x1="418.90" y1="143.50" x2="418.90" y2="146.50" stroke="#111" stroke-width="0.9"/>
<text transform="translate(418.90 156.90) scale(0.93 1)" font-size="8.3" text-anchor="middle">10<tspan font-size="5.6" dy="-3.3">4</tspan></text>
<text transform="translate(291.80 93.60) rotate(-90) scale(0.9 1)" font-size="9.3" text-anchor="middle">Platelet counts</text>
<text transform="translate(371.60 169.20) scale(0.895 1)" font-size="9.3" text-anchor="middle">P-selectin expression</text>
<line x1="326.20" y1="40.80" x2="342.80" y2="40.80" stroke="#8e1e3e" stroke-width="1.8"/>
<text transform="translate(345.80 43.10) scale(0.95 1)" font-size="7.8" text-anchor="start">Resting</text>
<line x1="326.20" y1="52.60" x2="342.80" y2="52.60" stroke="#dcbc92" stroke-width="1.5"/>
<text transform="translate(345.80 54.90) scale(0.95 1)" font-size="7.8" text-anchor="start">CHP-PE</text>
<line x1="326.20" y1="64.20" x2="342.80" y2="64.20" stroke="#30204a" stroke-width="1.5"/>
<text transform="translate(345.80 66.50) scale(0.95 1)" font-size="7.8" text-anchor="start">Thrombin</text>
<line x1="464.80" y1="44.70" x2="464.80" y2="144.10" stroke="#111" stroke-width="1.0"/>
<line x1="464.30" y1="143.60" x2="512.80" y2="143.60" stroke="#111" stroke-width="1.0"/>
<line x1="461.80" y1="143.60" x2="464.80" y2="143.60" stroke="#111" stroke-width="0.9"/>
<text transform="translate(458.80 146.40) scale(0.93 1)" font-size="8.3" text-anchor="end">0</text>
<line x1="461.80" y1="119.62" x2="464.80" y2="119.62" stroke="#111" stroke-width="0.9"/>
<text transform="translate(458.80 122.42) scale(0.93 1)" font-size="8.3" text-anchor="end">25</text>
<line x1="461.80" y1="95.65" x2="464.80" y2="95.65" stroke="#111" stroke-width="0.9"/>
<text transform="translate(458.80 98.45) scale(0.93 1)" font-size="8.3" text-anchor="end">50</text>
<line x1="461.80" y1="71.67" x2="464.80" y2="71.67" stroke="#111" stroke-width="0.9"/>
<text transform="translate(458.80 74.47) scale(0.93 1)" font-size="8.3" text-anchor="end">75</text>
<line x1="461.80" y1="47.70" x2="464.80" y2="47.70" stroke="#111" stroke-width="0.9"/>
<text transform="translate(458.80 50.50) scale(0.93 1)" font-size="8.3" text-anchor="end">100</text>
<rect x="470.40" y="131.61" width="6.6" height="11.99" fill="#000"/>
<line x1="473.70" y1="131.61" x2="473.70" y2="129.22" stroke="#000" stroke-width="1.2"/>
<line x1="472.10" y1="129.22" x2="475.30" y2="129.22" stroke="#000" stroke-width="1.1"/>
<text transform="translate(478.00 150.60) rotate(-50) scale(0.92 1)" font-size="8.2" text-anchor="end">Resting</text>
<rect x="487.30" y="52.50" width="6.6" height="91.10" fill="#000"/>
<line x1="490.60" y1="52.50" x2="490.60" y2="50.10" stroke="#000" stroke-width="1.2"/>
<line x1="489.00" y1="50.10" x2="492.20" y2="50.10" stroke="#000" stroke-width="1.1"/>
<circle cx="486.65" cy="45.10" r="1.15" fill="#111"/>
<circle cx="490.60" cy="45.10" r="1.15" fill="#111"/>
<circle cx="494.55" cy="45.10" r="1.15" fill="#111"/>
<text transform="translate(494.90 150.60) rotate(-50) scale(0.92 1)" font-size="8.2" text-anchor="end">CHP-PE</text>
<rect x="504.00" y="50.58" width="6.6" height="93.02" fill="#000"/>
<line x1="507.30" y1="50.58" x2="507.30" y2="48.66" stroke="#000" stroke-width="1.2"/>
<line x1="505.70" y1="48.66" x2="508.90" y2="48.66" stroke="#000" stroke-width="1.1"/>
<circle cx="503.35" cy="43.66" r="1.15" fill="#111"/>
<circle cx="507.30" cy="43.66" r="1.15" fill="#111"/>
<circle cx="511.25" cy="43.66" r="1.15" fill="#111"/>
<text transform="translate(511.60 150.60) rotate(-50) scale(0.92 1)" font-size="8.2" text-anchor="end">Thr</text>
<text transform="translate(440.60 95.20) rotate(-90) scale(0.93 1)" font-size="9.3" text-anchor="middle">Relative P-selectin expression</text>
<path d="M43.40,299.79 L43.67,300.52 L43.94,299.54 L44.20,298.66 L44.47,297.94 L44.74,299.84 L45.01,299.79 L45.27,298.54 L45.54,298.49 L45.81,297.23 L46.08,297.19 L46.35,298.15 L46.61,297.75 L46.88,297.17 L47.15,296.26 L47.42,297.65 L47.68,296.98 L47.95,297.48 L48.22,295.92 L48.49,297.15 L48.75,294.69 L49.02,295.41 L49.29,294.99 L49.56,295.89 L49.83,295.22 L50.09,294.31 L50.36,293.00 L50.63,293.46 L50.90,293.76 L51.16,291.61 L51.43,292.08 L51.70,292.06 L51.97,292.56 L52.24,291.94 L52.50,289.97 L52.77,291.66 L53.04,290.22 L53.31,289.62 L53.57,289.98 L53.84,288.49 L54.11,287.74 L54.38,287.53 L54.65,287.51 L54.91,288.65 L55.18,288.70 L55.45,287.28 L55.72,287.25 L55.98,287.21 L56.25,284.86 L56.52,286.36 L56.79,284.16 L57.06,283.38 L57.32,285.35 L57.59,282.51 L57.86,283.57 L58.13,283.62 L58.39,283.15 L58.66,283.01 L58.93,280.93 L59.20,280.59 L59.46,278.38 L59.73,277.66 L60.00,279.36 L60.27,277.43 L60.54,276.63 L60.80,276.48 L61.07,275.37 L61.34,274.45 L61.61,272.08 L61.87,272.37 L62.14,272.18 L62.41,270.77 L62.68,268.90 L62.95,267.35 L63.21,267.40 L63.48,264.59 L63.75,265.26 L64.02,262.42 L64.28,261.54 L64.55,262.13 L64.82,258.85 L65.09,259.25 L65.36,257.70 L65.62,256.42 L65.89,255.18 L66.16,254.79 L66.43,255.24 L66.69,251.13 L66.96,249.78 L67.23,250.38 L67.50,249.20 L67.77,249.88 L68.03,246.75 L68.30,247.45 L68.57,249.53 L68.84,247.60 L69.10,247.92 L69.37,251.97 L69.64,250.90 L69.91,254.78 L70.17,257.84 L70.44,257.53 L70.71,260.75 L70.98,260.82 L71.25,263.01 L71.51,266.47 L71.78,266.63 L72.05,267.24 L72.32,270.38 L72.58,271.99 L72.85,272.73 L73.12,275.98 L73.39,277.67 L73.66,279.20 L73.92,280.27 L74.19,284.04 L74.46,286.24 L74.73,286.22 L74.99,288.76 L75.26,291.37 L75.53,291.75 L75.80,293.70 L76.07,296.41 L76.33,297.18 L76.60,299.27 L76.87,301.12 L77.14,303.61 L77.40,305.70 L77.67,306.04 L77.94,307.54 L78.21,309.69 L78.48,310.96 L78.74,312.23 L79.01,313.87 L79.28,314.55 L79.55,315.69 L79.81,316.64 L80.08,317.40 L80.35,317.61 L80.62,318.06 L80.88,318.40 L80.88,318.40 L43.40,318.40 Z" fill="#ab0432" stroke="#8a0f2c" stroke-width="0.8"/>
<path d="M43.40,310.78 L43.94,310.25 L44.48,310.47 L45.03,309.95 L45.57,309.86 L46.11,309.34 L46.66,308.86 L47.20,309.04 L47.74,308.78 L48.28,307.98 L48.82,307.93 L49.37,307.20 L49.91,307.18 L50.45,306.81 L50.99,305.80 L51.54,304.80 L52.08,304.30 L52.62,304.18 L53.16,303.74 L53.71,303.58 L54.25,302.70 L54.79,302.04 L55.34,300.53 L55.88,301.05 L56.42,299.17 L56.96,299.17 L57.50,298.51 L58.05,298.04 L58.59,296.17 L59.13,296.61 L59.67,295.14 L60.22,294.32 L60.76,293.89 L61.30,292.87 L61.84,290.53 L62.39,289.86 L62.93,288.97 L63.47,287.70 L64.02,288.30 L64.56,286.21 L65.10,285.07 L65.64,285.03 L66.19,283.51 L66.73,281.47 L67.27,281.94 L67.81,280.35 L68.35,281.16 L68.90,279.95 L69.44,280.87 L69.98,280.58 L70.53,281.19 L71.07,280.58 L71.61,281.33 L72.15,282.37 L72.69,282.58 L73.24,284.06 L73.78,284.67 L74.32,287.27 L74.87,288.29 L75.41,289.65 L75.95,291.10 L76.49,292.38 L77.03,292.72 L77.58,292.43 L78.12,293.65 L78.66,293.16 L79.20,293.97 L79.75,293.56 L80.29,294.01 L80.83,294.43 L81.38,295.18 L81.92,295.85 L82.46,295.13 L83.00,294.92 L83.55,294.72 L84.09,295.98 L84.63,296.12 L85.17,294.86 L85.72,295.32 L86.26,295.81 L86.80,295.48 L87.34,296.52 L87.88,295.99 L88.43,295.90 L88.97,296.15 L89.51,297.03 L90.06,297.28 L90.60,296.74 L91.14,296.58 L91.68,298.00 L92.22,298.44 L92.77,298.55 L93.31,297.69 L93.85,298.47 L94.40,298.52 L94.94,297.80 L95.48,298.42 L96.02,298.95 L96.56,298.29 L97.11,299.34 L97.65,298.92 L98.19,298.29 L98.73,299.09 L99.28,299.30 L99.82,298.56 L100.36,298.85 L100.91,297.88 L101.45,299.19 L101.99,298.13 L102.53,298.76 L103.07,298.13 L103.62,298.81 L104.16,298.75 L104.70,299.65 L105.25,300.29 L105.79,300.52 L106.33,300.63 L106.87,301.90 L107.41,302.67 L107.96,303.01 L108.50,304.04 L109.04,304.43 L109.59,304.82 L110.13,305.62 L110.67,306.36 L111.21,307.53 L111.75,308.64 L112.30,309.45 L112.84,309.95 L113.38,310.91 L113.93,311.47 L114.47,312.69 L115.01,313.29 L115.55,314.38 L116.09,315.23 L116.64,315.97 L117.18,316.67 L117.72,317.19 L118.26,317.64 L118.81,318.08 L119.35,318.40" fill="none" stroke="#dcbc92" stroke-width="1.35" stroke-linejoin="round"/>
<path d="M48.30,318.40 L48.69,318.16 L49.08,318.01 L49.47,317.93 L49.86,317.53 L50.25,317.46 L50.64,317.27 L51.03,317.16 L51.42,317.11 L51.81,316.56 L52.20,316.73 L52.59,316.44 L52.98,315.90 L53.37,316.13 L53.76,315.67 L54.15,315.41 L54.54,315.25 L54.93,314.50 L55.32,314.47 L55.71,314.37 L56.10,313.62 L56.50,313.54 L56.89,312.50 L57.28,311.85 L57.67,311.26 L58.06,311.47 L58.45,310.28 L58.84,310.01 L59.23,309.19 L59.62,308.68 L60.01,307.97 L60.40,307.43 L60.79,306.09 L61.18,305.94 L61.57,304.02 L61.96,304.25 L62.35,301.90 L62.74,301.69 L63.13,300.46 L63.52,297.95 L63.91,296.66 L64.30,294.57 L64.69,293.24 L65.08,291.23 L65.47,290.40 L65.86,287.49 L66.25,285.99 L66.64,283.27 L67.03,283.16 L67.42,280.84 L67.81,277.22 L68.20,274.28 L68.59,273.09 L68.98,270.22 L69.37,268.55 L69.76,267.22 L70.15,265.64 L70.54,264.02 L70.93,264.19 L71.32,262.26 L71.72,259.99 L72.11,260.19 L72.50,258.73 L72.89,258.58 L73.28,257.83 L73.67,256.82 L74.06,256.64 L74.45,256.45 L74.84,258.34 L75.23,259.89 L75.62,260.54 L76.01,262.37 L76.40,263.10 L76.79,263.45 L77.18,264.60 L77.57,266.68 L77.96,268.07 L78.35,269.64 L78.74,270.91 L79.13,271.71 L79.52,273.90 L79.91,274.15 L80.30,276.56 L80.69,278.75 L81.08,280.24 L81.47,282.79 L81.86,283.29 L82.25,285.28 L82.64,288.08 L83.03,289.47 L83.42,292.25 L83.81,294.17 L84.20,295.79 L84.59,297.23 L84.98,297.71 L85.37,298.70 L85.76,299.57 L86.15,301.42 L86.54,301.39 L86.93,302.65 L87.32,303.60 L87.72,304.22 L88.11,305.06 L88.50,306.06 L88.89,306.50 L89.28,306.86 L89.67,307.42 L90.06,307.80 L90.45,309.15 L90.84,308.97 L91.23,309.60 L91.62,310.21 L92.01,310.47 L92.40,311.72 L92.79,311.63 L93.18,311.98 L93.57,313.06 L93.96,313.10 L94.35,313.24 L94.74,314.10 L95.13,314.06 L95.52,314.38 L95.91,315.00 L96.30,315.46 L96.69,315.68 L97.08,315.58 L97.47,316.03 L97.86,316.30 L98.25,316.43 L98.64,316.40 L99.03,316.88 L99.42,317.14 L99.81,316.93 L100.20,317.33 L100.59,317.46 L100.98,317.43 L101.37,317.80 L101.76,318.00 L102.15,317.98 L102.54,318.26 L102.94,318.40" fill="none" stroke="#b9c0a0" stroke-width="1.35" stroke-linejoin="round"/>
<path d="M51.97,318.40 L52.39,318.32 L52.80,318.12 L53.21,318.15 L53.62,317.92 L54.03,317.95 L54.44,317.87 L54.85,317.81 L55.27,317.62 L55.68,317.51 L56.09,317.45 L56.50,317.29 L56.91,317.23 L57.32,316.87 L57.73,316.66 L58.14,316.55 L58.55,316.30 L58.97,316.43 L59.38,316.08 L59.79,315.81 L60.20,315.53 L60.61,314.68 L61.02,314.33 L61.43,313.91 L61.84,313.73 L62.26,313.62 L62.67,312.91 L63.08,312.73 L63.49,311.50 L63.90,311.53 L64.31,310.96 L64.72,309.76 L65.13,309.90 L65.55,308.52 L65.96,308.41 L66.37,307.17 L66.78,306.88 L67.19,304.90 L67.60,304.42 L68.01,303.33 L68.42,301.69 L68.84,300.51 L69.25,299.71 L69.66,298.58 L70.07,296.54 L70.48,296.07 L70.89,293.31 L71.30,292.85 L71.72,291.79 L72.13,290.05 L72.54,288.93 L72.95,286.98 L73.36,284.91 L73.77,283.50 L74.18,281.95 L74.59,280.33 L75.00,278.18 L75.42,275.80 L75.83,274.82 L76.24,272.36 L76.65,271.23 L77.06,270.20 L77.47,268.14 L77.88,264.51 L78.30,263.49 L78.71,261.90 L79.12,259.85 L79.53,257.47 L79.94,257.44 L80.35,256.29 L80.76,255.14 L81.17,255.18 L81.59,253.12 L82.00,253.19 L82.41,253.40 L82.82,254.04 L83.23,254.71 L83.64,254.95 L84.05,257.35 L84.46,256.28 L84.88,259.60 L85.29,258.84 L85.70,262.07 L86.11,262.11 L86.52,265.20 L86.93,267.46 L87.34,268.17 L87.75,269.27 L88.17,270.99 L88.58,272.50 L88.99,273.81 L89.40,277.37 L89.81,278.14 L90.22,280.19 L90.63,280.28 L91.04,282.35 L91.46,283.19 L91.87,284.50 L92.28,285.51 L92.69,287.51 L93.10,288.50 L93.51,290.42 L93.92,292.57 L94.33,292.49 L94.75,295.15 L95.16,296.44 L95.57,296.53 L95.98,298.64 L96.39,299.30 L96.80,301.41 L97.21,302.29 L97.62,302.72 L98.03,304.67 L98.45,305.08 L98.86,305.60 L99.27,307.49 L99.68,307.97 L100.09,308.95 L100.50,310.06 L100.91,310.86 L101.33,311.79 L101.74,313.13 L102.15,313.65 L102.56,313.95 L102.97,314.10 L103.38,314.97 L103.79,315.07 L104.20,315.65 L104.62,315.53 L105.03,316.01 L105.44,316.22 L105.85,316.38 L106.26,316.84 L106.67,316.80 L107.08,316.98 L107.49,317.17 L107.91,317.58 L108.32,317.79 L108.73,318.01 L109.14,318.09 L109.55,318.40" fill="none" stroke="#30204a" stroke-width="1.5" stroke-linejoin="round"/>
<line x1="43.40" y1="219.16" x2="43.40" y2="318.90" stroke="#111" stroke-width="1.0"/>
<line x1="42.90" y1="318.40" x2="143.30" y2="318.40" stroke="#111" stroke-width="1.0"/>
<line x1="40.40" y1="318.40" x2="43.40" y2="318.40" stroke="#111" stroke-width="0.9"/>
<text transform="translate(37.00 321.20) scale(0.93 1)" font-size="8.3" text-anchor="end">0</text>
<line x1="41.80" y1="310.38" x2="43.40" y2="310.38" stroke="#111" stroke-width="0.9"/>
<line x1="41.80" y1="302.36" x2="43.40" y2="302.36" stroke="#111" stroke-width="0.9"/>
<line x1="40.40" y1="294.34" x2="43.40" y2="294.34" stroke="#111" stroke-width="0.9"/>
<text transform="translate(37.00 297.14) scale(0.93 1)" font-size="8.3" text-anchor="end">300</text>
<line x1="41.80" y1="286.32" x2="43.40" y2="286.32" stroke="#111" stroke-width="0.9"/>
<line x1="41.80" y1="278.30" x2="43.40" y2="278.30" stroke="#111" stroke-width="0.9"/>
<line x1="40.40" y1="270.28" x2="43.40" y2="270.28" stroke="#111" stroke-width="0.9"/>
<text transform="translate(37.00 273.08) scale(0.93 1)" font-size="8.3" text-anchor="end">600</text>
<line x1="41.80" y1="262.26" x2="43.40" y2="262.26" stroke="#111" stroke-width="0.9"/>
<line x1="41.80" y1="254.24" x2="43.40" y2="254.24" stroke="#111" stroke-width="0.9"/>
<line x1="40.40" y1="246.22" x2="43.40" y2="246.22" stroke="#111" stroke-width="0.9"/>
<text transform="translate(37.00 249.02) scale(0.93 1)" font-size="8.3" text-anchor="end">900</text>
<line x1="41.80" y1="238.20" x2="43.40" y2="238.20" stroke="#111" stroke-width="0.9"/>
<line x1="41.80" y1="230.18" x2="43.40" y2="230.18" stroke="#111" stroke-width="0.9"/>
<line x1="40.40" y1="222.16" x2="43.40" y2="222.16" stroke="#111" stroke-width="0.9"/>
<text transform="translate(37.00 224.96) scale(0.93 1)" font-size="8.3" text-anchor="end">1200</text>
<line x1="43.40" y1="318.40" x2="43.40" y2="321.40" stroke="#111" stroke-width="0.9"/>
<line x1="50.78" y1="318.40" x2="50.78" y2="320.10" stroke="#111" stroke-width="0.7"/>
<line x1="55.09" y1="318.40" x2="55.09" y2="320.10" stroke="#111" stroke-width="0.7"/>
<line x1="58.15" y1="318.40" x2="58.15" y2="320.10" stroke="#111" stroke-width="0.7"/>
<line x1="60.52" y1="318.40" x2="60.52" y2="320.10" stroke="#111" stroke-width="0.7"/>
<line x1="62.46" y1="318.40" x2="62.46" y2="320.10" stroke="#111" stroke-width="0.7"/>
<line x1="64.10" y1="318.40" x2="64.10" y2="320.10" stroke="#111" stroke-width="0.7"/>
<line x1="65.53" y1="318.40" x2="65.53" y2="320.10" stroke="#111" stroke-width="0.7"/>
<line x1="66.78" y1="318.40" x2="66.78" y2="320.10" stroke="#111" stroke-width="0.7"/>
<text transform="translate(43.40 331.80) scale(0.93 1)" font-size="8.3" text-anchor="middle">10<tspan font-size="5.6" dy="-3.3">0</tspan></text>
<line x1="67.90" y1="318.40" x2="67.90" y2="321.40" stroke="#111" stroke-width="0.9"/>
<line x1="75.28" y1="318.40" x2="75.28" y2="320.10" stroke="#111" stroke-width="0.7"/>
<line x1="79.59" y1="318.40" x2="79.59" y2="320.10" stroke="#111" stroke-width="0.7"/>
<line x1="82.65" y1="318.40" x2="82.65" y2="320.10" stroke="#111" stroke-width="0.7"/>
<line x1="85.02" y1="318.40" x2="85.02" y2="320.10" stroke="#111" stroke-width="0.7"/>
<line x1="86.96" y1="318.40" x2="86.96" y2="320.10" stroke="#111" stroke-width="0.7"/>
<line x1="88.60" y1="318.40" x2="88.60" y2="320.10" stroke="#111" stroke-width="0.7"/>
<line x1="90.03" y1="318.40" x2="90.03" y2="320.10" stroke="#111" stroke-width="0.7"/>
<line x1="91.28" y1="318.40" x2="91.28" y2="320.10" stroke="#111" stroke-width="0.7"/>
<text transform="translate(67.90 331.80) scale(0.93 1)" font-size="8.3" text-anchor="middle">10<tspan font-size="5.6" dy="-3.3">1</tspan></text>
<line x1="92.40" y1="318.40" x2="92.40" y2="321.40" stroke="#111" stroke-width="0.9"/>
<line x1="99.78" y1="318.40" x2="99.78" y2="320.10" stroke="#111" stroke-width="0.7"/>
<line x1="104.09" y1="318.40" x2="104.09" y2="320.10" stroke="#111" stroke-width="0.7"/>
<line x1="107.15" y1="318.40" x2="107.15" y2="320.10" stroke="#111" stroke-width="0.7"/>
<line x1="109.52" y1="318.40" x2="109.52" y2="320.10" stroke="#111" stroke-width="0.7"/>
<line x1="111.46" y1="318.40" x2="111.46" y2="320.10" stroke="#111" stroke-width="0.7"/>
<line x1="113.10" y1="318.40" x2="113.10" y2="320.10" stroke="#111" stroke-width="0.7"/>
<line x1="114.53" y1="318.40" x2="114.53" y2="320.10" stroke="#111" stroke-width="0.7"/>
<line x1="115.78" y1="318.40" x2="115.78" y2="320.10" stroke="#111" stroke-width="0.7"/>
<text transform="translate(92.40 331.80) scale(0.93 1)" font-size="8.3" text-anchor="middle">10<tspan font-size="5.6" dy="-3.3">2</tspan></text>
<line x1="116.90" y1="318.40" x2="116.90" y2="321.40" stroke="#111" stroke-width="0.9"/>
<line x1="124.28" y1="318.40" x2="124.28" y2="320.10" stroke="#111" stroke-width="0.7"/>
<line x1="128.59" y1="318.40" x2="128.59" y2="320.10" stroke="#111" stroke-width="0.7"/>
<line x1="131.65" y1="318.40" x2="131.65" y2="320.10" stroke="#111" stroke-width="0.7"/>
<line x1="134.02" y1="318.40" x2="134.02" y2="320.10" stroke="#111" stroke-width="0.7"/>
<line x1="135.96" y1="318.40" x2="135.96" y2="320.10" stroke="#111" stroke-width="0.7"/>
<line x1="137.60" y1="318.40" x2="137.60" y2="320.10" stroke="#111" stroke-width="0.7"/>
<line x1="139.03" y1="318.40" x2="139.03" y2="320.10" stroke="#111" stroke-width="0.7"/>
<line x1="140.28" y1="318.40" x2="140.28" y2="320.10" stroke="#111" stroke-width="0.7"/>
<text transform="translate(116.90 331.80) scale(0.93 1)" font-size="8.3" text-anchor="middle">10<tspan font-size="5.6" dy="-3.3">3</tspan></text>
<line x1="141.40" y1="318.40" x2="141.40" y2="321.40" stroke="#111" stroke-width="0.9"/>
<text transform="translate(141.40 331.80) scale(0.93 1)" font-size="8.3" text-anchor="middle">10<tspan font-size="5.6" dy="-3.3">4</tspan></text>
<text transform="translate(14.80 268.60) rotate(-90) scale(0.9 1)" font-size="9.3" text-anchor="middle">Platelet counts</text>
<g transform="translate(46.00 343.50)"><text transform="translate(0.00 0.00) scale(0.92 1)" font-size="9.3">Integrin</text><text transform="translate(30.50 0.00) scale(1.38 1)" font-size="8.742">α</text><text transform="translate(36.80 2.10) scale(0.95 1)" font-size="6.8">IIb</text><text transform="translate(43.35 0.00) scale(0.95 1)" font-size="9.3">β</text><text transform="translate(48.45 2.10) scale(1.0 1)" font-size="6.8">3</text><text transform="translate(55.30 0.00) scale(0.945 1)" font-size="9.3">activation</text></g>
<line x1="90.20" y1="216.50" x2="107.50" y2="216.50" stroke="#8e1e3e" stroke-width="1.8"/>
<text transform="translate(110.60 218.80) scale(0.95 1)" font-size="7.8" text-anchor="start">Resting</text>
<line x1="90.20" y1="227.70" x2="107.50" y2="227.70" stroke="#dcbc92" stroke-width="1.5"/>
<text transform="translate(110.60 230.00) scale(0.95 1)" font-size="7.8" text-anchor="start">CEP-PE</text>
<line x1="90.20" y1="239.00" x2="107.50" y2="239.00" stroke="#b9c0a0" stroke-width="1.5"/>
<text transform="translate(110.60 241.30) scale(0.95 1)" font-size="7.8" text-anchor="start">ADP</text>
<line x1="90.20" y1="250.30" x2="107.50" y2="250.30" stroke="#30204a" stroke-width="1.5"/>
<text transform="translate(110.60 252.60) scale(0.95 1)" font-size="7.8" text-anchor="start">Thrombin</text>
<path d="M199.60,300.03 L199.87,299.98 L200.14,299.91 L200.41,299.43 L200.67,298.85 L200.94,299.52 L201.21,299.30 L201.48,298.14 L201.75,297.93 L202.02,298.84 L202.28,299.18 L202.55,297.01 L202.82,297.29 L203.09,297.41 L203.36,297.67 L203.63,296.17 L203.89,297.22 L204.16,297.54 L204.43,297.62 L204.70,296.83 L204.97,296.03 L205.24,296.41 L205.50,294.80 L205.77,295.33 L206.04,295.61 L206.31,294.92 L206.58,294.87 L206.85,294.63 L207.12,294.74 L207.38,294.46 L207.65,294.33 L207.92,293.25 L208.19,294.64 L208.46,292.89 L208.73,293.89 L208.99,292.21 L209.26,293.95 L209.53,292.60 L209.80,292.41 L210.07,291.40 L210.34,292.42 L210.60,291.93 L210.87,291.93 L211.14,290.41 L211.41,289.99 L211.68,291.18 L211.95,290.29 L212.21,289.81 L212.48,287.25 L212.75,288.21 L213.02,287.43 L213.29,287.73 L213.56,286.17 L213.83,285.20 L214.09,285.08 L214.36,286.51 L214.63,284.63 L214.90,283.85 L215.17,284.54 L215.44,281.56 L215.70,282.28 L215.97,281.60 L216.24,279.75 L216.51,279.05 L216.78,278.49 L217.05,276.42 L217.31,276.65 L217.58,276.32 L217.85,276.34 L218.12,273.74 L218.39,273.43 L218.66,271.87 L218.92,271.56 L219.19,271.79 L219.46,270.66 L219.73,269.13 L220.00,268.21 L220.27,264.18 L220.54,263.94 L220.80,263.96 L221.07,260.85 L221.34,259.84 L221.61,260.79 L221.88,256.77 L222.15,257.61 L222.41,253.27 L222.68,255.59 L222.95,253.82 L223.22,252.62 L223.49,248.64 L223.76,247.51 L224.02,247.47 L224.29,248.66 L224.56,247.30 L224.83,246.48 L225.10,250.02 L225.37,247.43 L225.63,249.14 L225.90,250.32 L226.17,252.96 L226.44,254.99 L226.71,255.22 L226.98,259.60 L227.25,261.01 L227.51,263.37 L227.78,264.89 L228.05,264.40 L228.32,268.89 L228.59,268.46 L228.86,271.66 L229.12,271.96 L229.39,274.35 L229.66,276.55 L229.93,277.97 L230.20,282.38 L230.47,283.56 L230.73,285.16 L231.00,286.92 L231.27,288.20 L231.54,289.60 L231.81,291.94 L232.08,293.39 L232.34,295.85 L232.61,298.46 L232.88,299.84 L233.15,300.98 L233.42,302.44 L233.69,304.90 L233.96,306.50 L234.22,307.62 L234.49,309.76 L234.76,310.27 L235.03,312.85 L235.30,313.32 L235.57,314.68 L235.83,315.94 L236.10,316.48 L236.37,317.21 L236.64,317.46 L236.91,317.95 L237.18,318.50 L237.18,318.50 L199.60,318.50 Z" fill="#ab0432" stroke="#8a0f2c" stroke-width="0.8"/>
<path d="M199.60,312.02 L200.03,311.82 L200.45,311.45 L200.88,311.28 L201.31,311.70 L201.73,310.81 L202.16,310.48 L202.59,309.97 L203.02,309.79 L203.44,309.74 L203.87,309.47 L204.30,308.51 L204.72,308.47 L205.15,307.31 L205.58,306.93 L206.00,306.02 L206.43,305.94 L206.86,305.35 L207.29,303.90 L207.71,303.50 L208.14,303.14 L208.57,302.14 L208.99,301.55 L209.42,300.46 L209.85,299.84 L210.28,299.36 L210.70,297.47 L211.13,296.75 L211.56,296.08 L211.98,295.98 L212.41,295.25 L212.84,293.46 L213.26,292.40 L213.69,291.78 L214.12,291.65 L214.54,289.83 L214.97,289.27 L215.40,288.64 L215.83,287.32 L216.25,286.67 L216.68,285.34 L217.11,284.07 L217.53,282.42 L217.96,282.91 L218.39,280.60 L218.81,278.39 L219.24,277.54 L219.67,276.24 L220.10,274.16 L220.52,274.59 L220.95,271.45 L221.38,270.51 L221.80,269.37 L222.23,268.90 L222.66,267.14 L223.08,267.35 L223.51,265.33 L223.94,264.95 L224.37,262.20 L224.79,261.48 L225.22,261.32 L225.65,259.63 L226.07,259.70 L226.50,258.52 L226.93,258.76 L227.35,256.30 L227.78,256.06 L228.21,255.73 L228.64,257.36 L229.06,255.36 L229.49,257.58 L229.92,256.19 L230.34,256.54 L230.77,257.87 L231.20,257.11 L231.62,256.11 L232.05,257.09 L232.48,258.20 L232.91,257.25 L233.33,259.02 L233.76,258.31 L234.19,260.47 L234.61,262.28 L235.04,261.05 L235.47,264.49 L235.89,265.22 L236.32,265.15 L236.75,268.06 L237.18,268.55 L237.60,269.53 L238.03,272.07 L238.46,274.63 L238.88,275.81 L239.31,277.80 L239.74,280.49 L240.16,282.87 L240.59,286.25 L241.02,288.94 L241.45,290.67 L241.87,293.23 L242.30,296.83 L242.73,297.88 L243.15,298.99 L243.58,299.20 L244.01,301.05 L244.44,301.97 L244.86,301.97 L245.29,303.56 L245.72,303.22 L246.14,304.60 L246.57,304.73 L247.00,305.51 L247.42,306.92 L247.85,306.90 L248.28,307.95 L248.70,308.77 L249.13,309.53 L249.56,309.42 L249.99,310.11 L250.41,310.88 L250.84,310.89 L251.27,311.95 L251.69,312.18 L252.12,312.92 L252.55,313.11 L252.97,313.08 L253.40,313.76 L253.83,314.37 L254.26,314.66 L254.68,314.73 L255.11,315.30 L255.54,315.27 L255.96,316.08 L256.39,315.99 L256.82,316.47 L257.25,316.72 L257.67,317.25 L258.10,317.67 L258.53,317.94 L258.95,318.15 L259.38,318.50" fill="none" stroke="#b9c0a0" stroke-width="1.35" stroke-linejoin="round"/>
<path d="M199.60,316.48 L200.15,316.63 L200.70,316.50 L201.25,316.05 L201.80,315.87 L202.34,315.76 L202.89,315.64 L203.44,315.68 L203.99,315.37 L204.54,315.34 L205.09,315.29 L205.64,315.24 L206.19,315.35 L206.74,315.17 L207.29,314.91 L207.83,314.61 L208.38,314.68 L208.93,313.90 L209.48,313.99 L210.03,313.66 L210.58,313.33 L211.13,313.61 L211.68,312.86 L212.23,312.54 L212.78,312.84 L213.32,312.68 L213.87,311.78 L214.42,311.29 L214.97,310.86 L215.52,310.64 L216.07,309.78 L216.62,309.55 L217.17,308.62 L217.72,307.55 L218.27,306.24 L218.81,306.05 L219.36,303.96 L219.91,304.05 L220.46,301.67 L221.01,301.54 L221.56,299.52 L222.11,298.31 L222.66,296.87 L223.21,296.41 L223.76,294.80 L224.31,294.26 L224.85,292.10 L225.40,292.16 L225.95,289.55 L226.50,288.71 L227.05,288.20 L227.60,284.89 L228.15,284.43 L228.70,283.23 L229.25,281.13 L229.79,279.97 L230.34,277.83 L230.89,275.40 L231.44,273.35 L231.99,272.59 L232.54,270.47 L233.09,269.02 L233.64,267.96 L234.19,267.78 L234.74,267.57 L235.28,267.75 L235.83,266.79 L236.38,267.63 L236.93,266.31 L237.48,267.69 L238.03,269.11 L238.58,272.35 L239.13,275.60 L239.68,279.50 L240.23,281.86 L240.77,283.65 L241.32,287.13 L241.87,288.49 L242.42,289.67 L242.97,291.90 L243.52,291.97 L244.07,293.55 L244.62,293.88 L245.17,295.37 L245.72,295.71 L246.26,296.47 L246.81,297.81 L247.36,297.82 L247.91,298.24 L248.46,298.93 L249.01,299.12 L249.56,299.20 L250.11,299.75 L250.66,300.03 L251.21,301.19 L251.75,300.47 L252.30,300.56 L252.85,300.07 L253.40,301.35 L253.95,301.02 L254.50,299.75 L255.05,300.51 L255.60,299.91 L256.15,299.96 L256.70,300.12 L257.25,299.89 L257.79,299.51 L258.34,298.68 L258.89,299.22 L259.44,298.79 L259.99,299.60 L260.54,299.18 L261.09,299.62 L261.64,299.76 L262.19,299.95 L262.74,301.51 L263.28,300.79 L263.83,301.98 L264.38,303.25 L264.93,303.83 L265.48,305.18 L266.03,305.87 L266.58,305.97 L267.13,306.97 L267.68,307.69 L268.23,309.34 L268.77,310.27 L269.32,310.86 L269.87,311.58 L270.42,312.17 L270.97,313.24 L271.52,313.62 L272.07,314.43 L272.62,315.28 L273.17,315.61 L273.71,316.57 L274.26,316.84 L274.81,317.45 L275.36,317.87 L275.91,318.12 L276.46,318.50" fill="none" stroke="#dcbc92" stroke-width="1.35" stroke-linejoin="round"/>
<path d="M211.80,318.50 L212.25,318.20 L212.71,317.90 L213.16,317.70 L213.61,317.25 L214.07,317.03 L214.52,317.04 L214.97,316.87 L215.43,316.14 L215.88,316.15 L216.33,316.04 L216.78,315.72 L217.24,315.09 L217.69,315.09 L218.14,314.60 L218.60,314.00 L219.05,313.82 L219.50,313.11 L219.96,312.28 L220.41,311.73 L220.86,311.11 L221.32,310.29 L221.77,309.73 L222.22,308.46 L222.68,307.49 L223.13,306.56 L223.58,305.67 L224.03,304.33 L224.49,304.01 L224.94,302.25 L225.39,300.74 L225.85,300.92 L226.30,299.38 L226.75,296.96 L227.21,297.04 L227.66,294.43 L228.11,293.33 L228.57,292.68 L229.02,290.04 L229.47,289.33 L229.93,285.64 L230.38,284.44 L230.83,280.77 L231.29,278.32 L231.74,277.49 L232.19,274.44 L232.64,272.66 L233.10,269.00 L233.55,268.55 L234.00,266.55 L234.46,264.28 L234.91,260.18 L235.36,259.68 L235.82,257.59 L236.27,255.69 L236.72,254.26 L237.18,254.02 L237.63,252.27 L238.08,253.73 L238.54,253.23 L238.99,252.15 L239.44,254.19 L239.89,255.08 L240.35,254.23 L240.80,256.74 L241.25,256.37 L241.71,258.13 L242.16,261.25 L242.61,263.52 L243.07,266.36 L243.52,266.70 L243.97,269.81 L244.43,271.81 L244.88,273.85 L245.33,275.34 L245.79,275.46 L246.24,278.62 L246.69,279.19 L247.15,280.51 L247.60,282.16 L248.05,283.61 L248.50,285.21 L248.96,286.99 L249.41,287.16 L249.86,288.40 L250.32,290.37 L250.77,292.26 L251.22,292.42 L251.68,294.89 L252.13,296.16 L252.58,296.59 L253.04,297.40 L253.49,298.87 L253.94,300.58 L254.40,300.33 L254.85,302.47 L255.30,303.15 L255.75,303.22 L256.21,304.37 L256.66,305.27 L257.11,306.90 L257.57,306.76 L258.02,308.00 L258.47,309.14 L258.93,309.02 L259.38,309.59 L259.83,311.13 L260.29,311.38 L260.74,311.60 L261.19,312.65 L261.65,313.16 L262.10,313.23 L262.55,313.85 L263.01,313.76 L263.46,314.16 L263.91,314.44 L264.36,314.81 L264.82,315.38 L265.27,315.31 L265.72,315.59 L266.18,315.85 L266.63,316.00 L267.08,316.32 L267.54,316.55 L267.99,316.37 L268.44,316.79 L268.90,317.05 L269.35,316.83 L269.80,317.16 L270.26,317.23 L270.71,317.47 L271.16,317.65 L271.61,317.70 L272.07,317.65 L272.52,317.92 L272.97,317.86 L273.43,318.11 L273.88,318.09 L274.33,318.33 L274.79,318.39 L275.24,318.50" fill="none" stroke="#30204a" stroke-width="1.5" stroke-linejoin="round"/>
<line x1="199.60" y1="218.30" x2="199.60" y2="319.00" stroke="#111" stroke-width="1.0"/>
<line x1="199.10" y1="318.50" x2="300.20" y2="318.50" stroke="#111" stroke-width="1.0"/>
<line x1="196.60" y1="318.50" x2="199.60" y2="318.50" stroke="#111" stroke-width="0.9"/>
<text transform="translate(193.20 321.30) scale(0.93 1)" font-size="8.3" text-anchor="end">0</text>
<line x1="198.00" y1="310.40" x2="199.60" y2="310.40" stroke="#111" stroke-width="0.9"/>
<line x1="198.00" y1="302.30" x2="199.60" y2="302.30" stroke="#111" stroke-width="0.9"/>
<line x1="196.60" y1="294.20" x2="199.60" y2="294.20" stroke="#111" stroke-width="0.9"/>
<text transform="translate(193.20 297.00) scale(0.93 1)" font-size="8.3" text-anchor="end">300</text>
<line x1="198.00" y1="286.10" x2="199.60" y2="286.10" stroke="#111" stroke-width="0.9"/>
<line x1="198.00" y1="278.00" x2="199.60" y2="278.00" stroke="#111" stroke-width="0.9"/>
<line x1="196.60" y1="269.90" x2="199.60" y2="269.90" stroke="#111" stroke-width="0.9"/>
<text transform="translate(193.20 272.70) scale(0.93 1)" font-size="8.3" text-anchor="end">600</text>
<line x1="198.00" y1="261.80" x2="199.60" y2="261.80" stroke="#111" stroke-width="0.9"/>
<line x1="198.00" y1="253.70" x2="199.60" y2="253.70" stroke="#111" stroke-width="0.9"/>
<line x1="196.60" y1="245.60" x2="199.60" y2="245.60" stroke="#111" stroke-width="0.9"/>
<text transform="translate(193.20 248.40) scale(0.93 1)" font-size="8.3" text-anchor="end">900</text>
<line x1="198.00" y1="237.50" x2="199.60" y2="237.50" stroke="#111" stroke-width="0.9"/>
<line x1="198.00" y1="229.40" x2="199.60" y2="229.40" stroke="#111" stroke-width="0.9"/>
<line x1="196.60" y1="221.30" x2="199.60" y2="221.30" stroke="#111" stroke-width="0.9"/>
<text transform="translate(193.20 224.10) scale(0.93 1)" font-size="8.3" text-anchor="end">1200</text>
<line x1="199.60" y1="318.50" x2="199.60" y2="321.50" stroke="#111" stroke-width="0.9"/>
<line x1="206.95" y1="318.50" x2="206.95" y2="320.20" stroke="#111" stroke-width="0.7"/>
<line x1="211.24" y1="318.50" x2="211.24" y2="320.20" stroke="#111" stroke-width="0.7"/>
<line x1="214.29" y1="318.50" x2="214.29" y2="320.20" stroke="#111" stroke-width="0.7"/>
<line x1="216.65" y1="318.50" x2="216.65" y2="320.20" stroke="#111" stroke-width="0.7"/>
<line x1="218.59" y1="318.50" x2="218.59" y2="320.20" stroke="#111" stroke-width="0.7"/>
<line x1="220.22" y1="318.50" x2="220.22" y2="320.20" stroke="#111" stroke-width="0.7"/>
<line x1="221.64" y1="318.50" x2="221.64" y2="320.20" stroke="#111" stroke-width="0.7"/>
<line x1="222.88" y1="318.50" x2="222.88" y2="320.20" stroke="#111" stroke-width="0.7"/>
<text transform="translate(199.60 335.20) scale(0.93 1)" font-size="8.3" text-anchor="middle">10<tspan font-size="5.6" dy="-3.3">0</tspan></text>
<line x1="224.00" y1="318.50" x2="224.00" y2="321.50" stroke="#111" stroke-width="0.9"/>
<line x1="231.35" y1="318.50" x2="231.35" y2="320.20" stroke="#111" stroke-width="0.7"/>
<line x1="235.64" y1="318.50" x2="235.64" y2="320.20" stroke="#111" stroke-width="0.7"/>
<line x1="238.69" y1="318.50" x2="238.69" y2="320.20" stroke="#111" stroke-width="0.7"/>
<line x1="241.05" y1="318.50" x2="241.05" y2="320.20" stroke="#111" stroke-width="0.7"/>
<line x1="242.99" y1="318.50" x2="242.99" y2="320.20" stroke="#111" stroke-width="0.7"/>
<line x1="244.62" y1="318.50" x2="244.62" y2="320.20" stroke="#111" stroke-width="0.7"/>
<line x1="246.04" y1="318.50" x2="246.04" y2="320.20" stroke="#111" stroke-width="0.7"/>
<line x1="247.28" y1="318.50" x2="247.28" y2="320.20" stroke="#111" stroke-width="0.7"/>
<text transform="translate(224.00 335.20) scale(0.93 1)" font-size="8.3" text-anchor="middle">10<tspan font-size="5.6" dy="-3.3">1</tspan></text>
<line x1="248.40" y1="318.50" x2="248.40" y2="321.50" stroke="#111" stroke-width="0.9"/>
<line x1="255.75" y1="318.50" x2="255.75" y2="320.20" stroke="#111" stroke-width="0.7"/>
<line x1="260.04" y1="318.50" x2="260.04" y2="320.20" stroke="#111" stroke-width="0.7"/>
<line x1="263.09" y1="318.50" x2="263.09" y2="320.20" stroke="#111" stroke-width="0.7"/>
<line x1="265.45" y1="318.50" x2="265.45" y2="320.20" stroke="#111" stroke-width="0.7"/>
<line x1="267.39" y1="318.50" x2="267.39" y2="320.20" stroke="#111" stroke-width="0.7"/>
<line x1="269.02" y1="318.50" x2="269.02" y2="320.20" stroke="#111" stroke-width="0.7"/>
<line x1="270.44" y1="318.50" x2="270.44" y2="320.20" stroke="#111" stroke-width="0.7"/>
<line x1="271.68" y1="318.50" x2="271.68" y2="320.20" stroke="#111" stroke-width="0.7"/>
<text transform="translate(248.40 335.20) scale(0.93 1)" font-size="8.3" text-anchor="middle">10<tspan font-size="5.6" dy="-3.3">2</tspan></text>
<line x1="272.80" y1="318.50" x2="272.80" y2="321.50" stroke="#111" stroke-width="0.9"/>
<line x1="280.15" y1="318.50" x2="280.15" y2="320.20" stroke="#111" stroke-width="0.7"/>
<line x1="284.44" y1="318.50" x2="284.44" y2="320.20" stroke="#111" stroke-width="0.7"/>
<line x1="287.49" y1="318.50" x2="287.49" y2="320.20" stroke="#111" stroke-width="0.7"/>
<line x1="289.85" y1="318.50" x2="289.85" y2="320.20" stroke="#111" stroke-width="0.7"/>
<line x1="291.79" y1="318.50" x2="291.79" y2="320.20" stroke="#111" stroke-width="0.7"/>
<line x1="293.42" y1="318.50" x2="293.42" y2="320.20" stroke="#111" stroke-width="0.7"/>
<line x1="294.84" y1="318.50" x2="294.84" y2="320.20" stroke="#111" stroke-width="0.7"/>
<line x1="296.08" y1="318.50" x2="296.08" y2="320.20" stroke="#111" stroke-width="0.7"/>
<text transform="translate(272.80 335.20) scale(0.93 1)" font-size="8.3" text-anchor="middle">10<tspan font-size="5.6" dy="-3.3">3</tspan></text>
<line x1="297.20" y1="318.50" x2="297.20" y2="321.50" stroke="#111" stroke-width="0.9"/>
<text transform="translate(297.20 335.20) scale(0.93 1)" font-size="8.3" text-anchor="middle">10<tspan font-size="5.6" dy="-3.3">4</tspan></text>
<text transform="translate(171.20 268.60) rotate(-90) scale(0.9 1)" font-size="9.3" text-anchor="middle">Platelet counts</text>
<g transform="translate(202.00 348.00)"><text transform="translate(0.00 0.00) scale(0.92 1)" font-size="9.3">Integrin</text><text transform="translate(30.50 0.00) scale(1.38 1)" font-size="8.742">α</text><text transform="translate(36.80 2.10) scale(0.95 1)" font-size="6.8">IIb</text><text transform="translate(43.35 0.00) scale(0.95 1)" font-size="9.3">β</text><text transform="translate(48.45 2.10) scale(1.0 1)" font-size="6.8">3</text><text transform="translate(55.30 0.00) scale(0.945 1)" font-size="9.3">activation</text></g>
<line x1="241.00" y1="209.80" x2="257.50" y2="209.80" stroke="#8e1e3e" stroke-width="1.8"/>
<text transform="translate(261.20 212.10) scale(0.95 1)" font-size="7.8" text-anchor="start">Resting</text>
<line x1="241.00" y1="221.20" x2="257.50" y2="221.20" stroke="#dcbc92" stroke-width="1.5"/>
<text transform="translate(261.20 223.50) scale(0.95 1)" font-size="7.8" text-anchor="start">CHP-PE</text>
<line x1="241.00" y1="233.00" x2="257.50" y2="233.00" stroke="#b9c0a0" stroke-width="1.5"/>
<text transform="translate(261.20 235.30) scale(0.95 1)" font-size="7.8" text-anchor="start">ADP</text>
<line x1="241.00" y1="244.40" x2="257.50" y2="244.40" stroke="#30204a" stroke-width="1.5"/>
<text transform="translate(261.20 246.70) scale(0.95 1)" font-size="7.8" text-anchor="start">Thrombin</text>
<line x1="361.60" y1="217.90" x2="361.60" y2="318.60" stroke="#111" stroke-width="1.0"/>
<line x1="361.10" y1="318.10" x2="442.00" y2="318.10" stroke="#111" stroke-width="1.0"/>
<line x1="358.60" y1="318.10" x2="361.60" y2="318.10" stroke="#111" stroke-width="0.9"/>
<text transform="translate(355.60 320.90) scale(0.93 1)" font-size="8.3" text-anchor="end">0</text>
<line x1="358.60" y1="293.80" x2="361.60" y2="293.80" stroke="#111" stroke-width="0.9"/>
<text transform="translate(355.60 296.60) scale(0.93 1)" font-size="8.3" text-anchor="end">25</text>
<line x1="358.60" y1="269.50" x2="361.60" y2="269.50" stroke="#111" stroke-width="0.9"/>
<text transform="translate(355.60 272.30) scale(0.93 1)" font-size="8.3" text-anchor="end">50</text>
<line x1="358.60" y1="245.20" x2="361.60" y2="245.20" stroke="#111" stroke-width="0.9"/>
<text transform="translate(355.60 248.00) scale(0.93 1)" font-size="8.3" text-anchor="end">75</text>
<line x1="358.60" y1="220.90" x2="361.60" y2="220.90" stroke="#111" stroke-width="0.9"/>
<text transform="translate(355.60 223.70) scale(0.93 1)" font-size="8.3" text-anchor="end">100</text>
<rect x="366.60" y="308.38" width="6.6" height="9.72" fill="#000"/>
<line x1="369.90" y1="308.38" x2="369.90" y2="307.89" stroke="#000" stroke-width="1.2"/>
<line x1="368.30" y1="307.89" x2="371.50" y2="307.89" stroke="#000" stroke-width="1.1"/>
<text transform="translate(374.70 325.10) rotate(-50) scale(0.92 1)" font-size="8.2" text-anchor="end">Resting</text>
<rect x="383.30" y="267.56" width="6.6" height="50.54" fill="#000"/>
<line x1="386.60" y1="267.56" x2="386.60" y2="263.67" stroke="#000" stroke-width="1.2"/>
<line x1="385.00" y1="263.67" x2="388.20" y2="263.67" stroke="#000" stroke-width="1.1"/>
<circle cx="382.65" cy="258.67" r="1.15" fill="#111"/>
<circle cx="386.60" cy="258.67" r="1.15" fill="#111"/>
<circle cx="390.55" cy="258.67" r="1.15" fill="#111"/>
<text transform="translate(391.40 325.10) rotate(-50) scale(0.92 1)" font-size="8.2" text-anchor="end">CEP-PE</text>
<rect x="399.60" y="252.00" width="6.6" height="66.10" fill="#000"/>
<line x1="402.90" y1="252.00" x2="402.90" y2="245.20" stroke="#000" stroke-width="1.2"/>
<line x1="401.30" y1="245.20" x2="404.50" y2="245.20" stroke="#000" stroke-width="1.1"/>
<circle cx="398.95" cy="240.20" r="1.15" fill="#111"/>
<circle cx="402.90" cy="240.20" r="1.15" fill="#111"/>
<circle cx="406.85" cy="240.20" r="1.15" fill="#111"/>
<text transform="translate(407.70 325.10) rotate(-50) scale(0.92 1)" font-size="8.2" text-anchor="end">CHP-PE</text>
<rect x="416.10" y="269.50" width="6.6" height="48.60" fill="#000"/>
<line x1="419.40" y1="269.50" x2="419.40" y2="263.18" stroke="#000" stroke-width="1.2"/>
<line x1="417.80" y1="263.18" x2="421.00" y2="263.18" stroke="#000" stroke-width="1.1"/>
<circle cx="415.45" cy="258.18" r="1.15" fill="#111"/>
<circle cx="419.40" cy="258.18" r="1.15" fill="#111"/>
<circle cx="423.35" cy="258.18" r="1.15" fill="#111"/>
<text transform="translate(424.20 325.10) rotate(-50) scale(0.92 1)" font-size="8.2" text-anchor="end">ADP</text>
<rect x="432.60" y="233.54" width="6.6" height="84.56" fill="#000"/>
<line x1="435.90" y1="233.54" x2="435.90" y2="224.79" stroke="#000" stroke-width="1.2"/>
<line x1="434.30" y1="224.79" x2="437.50" y2="224.79" stroke="#000" stroke-width="1.1"/>
<circle cx="431.95" cy="219.79" r="1.15" fill="#111"/>
<circle cx="435.90" cy="219.79" r="1.15" fill="#111"/>
<circle cx="439.85" cy="219.79" r="1.15" fill="#111"/>
<text transform="translate(440.70 325.10) rotate(-50) scale(0.92 1)" font-size="8.2" text-anchor="end">Thr</text>
<g transform="translate(326.00 313.30) rotate(-90)"><text transform="translate(0.00 0.00) scale(0.92 1)" font-size="9.3">Relative Integrin</text><text transform="translate(64.20 0.00) scale(1.16 1)" font-size="8.835">α</text><text transform="translate(69.50 2.10) scale(1.0 1)" font-size="6.5">IIb</text><text transform="translate(77.50 0.00) scale(0.95 1)" font-size="9.3">β</text><text transform="translate(82.80 2.10) scale(1.0 1)" font-size="6.6">3</text></g>
<text transform="translate(338.00 269.90) rotate(-90) scale(0.92 1)" font-size="9.3" text-anchor="middle">activation</text>
<path d="M46.60,488.02 L46.91,487.89 L47.23,487.22 L47.54,486.01 L47.86,485.60 L48.17,484.68 L48.49,484.55 L48.80,483.75 L49.12,483.09 L49.43,481.43 L49.75,482.23 L50.06,480.98 L50.38,479.51 L50.69,479.37 L51.01,479.32 L51.32,477.20 L51.64,478.29 L51.95,477.56 L52.27,477.14 L52.58,475.57 L52.90,473.98 L53.21,474.51 L53.53,473.79 L53.84,471.92 L54.16,472.79 L54.47,472.18 L54.79,469.93 L55.10,470.51 L55.42,468.69 L55.73,468.83 L56.05,466.93 L56.36,465.51 L56.68,465.72 L56.99,465.39 L57.31,463.71 L57.62,462.73 L57.94,463.65 L58.25,462.41 L58.57,461.30 L58.88,460.21 L59.20,460.12 L59.51,458.34 L59.83,458.72 L60.14,456.09 L60.46,456.81 L60.77,456.32 L61.09,455.88 L61.40,454.89 L61.72,453.80 L62.03,451.03 L62.34,451.71 L62.66,451.01 L62.97,448.91 L63.29,448.48 L63.60,448.83 L63.92,450.34 L64.23,450.09 L64.55,449.60 L64.86,450.45 L65.18,450.30 L65.49,450.87 L65.81,450.97 L66.12,449.63 L66.44,450.32 L66.75,451.06 L67.07,451.27 L67.38,451.44 L67.70,452.21 L68.01,455.43 L68.33,454.54 L68.64,457.28 L68.96,460.14 L69.27,462.13 L69.59,466.48 L69.90,470.53 L70.22,472.99 L70.53,473.45 L70.85,474.69 L71.16,475.93 L71.48,477.47 L71.79,477.34 L72.11,478.72 L72.42,478.35 L72.74,479.35 L73.05,480.28 L73.37,479.73 L73.68,480.82 L74.00,481.84 L74.31,481.81 L74.63,482.53 L74.94,482.16 L75.26,481.61 L75.57,481.84 L75.89,482.62 L76.20,483.73 L76.52,483.84 L76.83,484.14 L77.15,484.10 L77.46,483.90 L77.78,485.14 L78.09,484.61 L78.40,484.94 L78.72,484.78 L79.03,484.74 L79.35,485.64 L79.66,485.54 L79.98,486.26 L80.29,486.20 L80.61,486.14 L80.92,487.24 L81.24,486.76 L81.55,486.97 L81.87,487.62 L82.18,487.71 L82.50,487.06 L82.81,487.91 L83.13,488.31 L83.44,488.35 L83.76,488.21 L84.07,488.58 L84.39,488.85 L84.70,489.10 L85.02,489.48 L85.33,489.36 L85.65,489.52 L85.96,490.50 L86.28,490.27 L86.59,491.05 L86.91,490.76 L87.22,491.33 L87.54,492.72 L87.85,492.67 L88.17,493.55 L88.48,494.27 L88.80,494.14 L89.11,494.69 L89.43,495.37 L89.74,496.07 L90.06,496.51 L90.37,497.30 L90.69,497.90 L90.69,497.90 L46.60,497.90 Z" fill="#ab0432" stroke="#8a0f2c" stroke-width="0.8"/>
<path d="M46.60,488.20 L46.92,487.39 L47.24,486.76 L47.55,485.91 L47.87,485.25 L48.19,485.18 L48.51,484.65 L48.83,483.64 L49.15,482.94 L49.46,482.57 L49.78,481.32 L50.10,480.69 L50.42,480.23 L50.74,479.77 L51.06,478.92 L51.37,478.92 L51.69,477.47 L52.01,477.73 L52.33,476.03 L52.65,475.76 L52.97,475.60 L53.28,475.07 L53.60,473.83 L53.92,473.35 L54.24,472.32 L54.56,472.53 L54.87,470.66 L55.19,470.65 L55.51,469.93 L55.83,468.76 L56.15,468.28 L56.47,467.85 L56.78,467.42 L57.10,466.46 L57.42,466.53 L57.74,465.51 L58.06,463.91 L58.38,464.50 L58.69,463.97 L59.01,462.07 L59.33,462.35 L59.65,461.54 L59.97,460.88 L60.28,460.08 L60.60,460.22 L60.92,458.80 L61.24,459.63 L61.56,457.47 L61.88,457.89 L62.19,456.73 L62.51,456.80 L62.83,455.43 L63.15,455.66 L63.47,454.78 L63.79,454.93 L64.10,453.58 L64.42,453.39 L64.74,454.29 L65.06,453.03 L65.38,452.57 L65.69,453.95 L66.01,454.28 L66.33,453.33 L66.65,454.00 L66.97,456.51 L67.29,456.34 L67.60,457.23 L67.92,459.72 L68.24,460.07 L68.56,462.24 L68.88,462.64 L69.20,464.33 L69.51,465.53 L69.83,467.40 L70.15,467.95 L70.47,469.33 L70.79,471.38 L71.11,473.03 L71.42,474.04 L71.74,474.60 L72.06,474.25 L72.38,475.28 L72.70,475.72 L73.01,476.52 L73.33,477.89 L73.65,478.03 L73.97,477.68 L74.29,478.11 L74.61,478.13 L74.92,478.45 L75.24,478.66 L75.56,478.66 L75.88,478.52 L76.20,479.19 L76.52,479.74 L76.83,479.41 L77.15,479.83 L77.47,479.53 L77.79,479.16 L78.11,479.60 L78.42,479.67 L78.74,479.92 L79.06,479.64 L79.38,479.51 L79.70,479.49 L80.02,479.15 L80.33,480.36 L80.65,480.26 L80.97,480.62 L81.29,479.73 L81.61,480.29 L81.93,480.46 L82.24,480.49 L82.56,481.72 L82.88,480.97 L83.20,482.08 L83.52,482.24 L83.84,483.07 L84.15,483.31 L84.47,484.46 L84.79,485.17 L85.11,485.88 L85.43,486.07 L85.74,487.02 L86.06,488.07 L86.38,488.69 L86.70,489.36 L87.02,490.39 L87.34,491.09 L87.65,491.75 L87.97,492.70 L88.29,493.33 L88.61,494.26 L88.93,494.51 L89.25,495.00 L89.56,495.67 L89.88,496.32 L90.20,496.71 L90.52,496.93 L90.84,497.37 L91.16,497.90" fill="none" stroke="#6c7290" stroke-width="1.1" stroke-linejoin="round"/>
<path d="M46.60,496.08 L46.99,495.68 L47.39,495.46 L47.78,495.13 L48.17,495.04 L48.57,494.48 L48.96,493.96 L49.36,494.12 L49.75,493.58 L50.14,493.14 L50.54,492.98 L50.93,492.89 L51.32,492.68 L51.72,492.04 L52.11,491.60 L52.50,491.34 L52.90,491.39 L53.29,490.82 L53.69,490.45 L54.08,490.48 L54.47,489.85 L54.87,489.82 L55.26,489.64 L55.65,489.47 L56.05,488.46 L56.44,488.06 L56.83,488.33 L57.23,487.91 L57.62,487.26 L58.02,486.94 L58.41,485.97 L58.80,486.06 L59.20,485.16 L59.59,484.70 L59.98,484.35 L60.38,483.16 L60.77,482.93 L61.16,482.08 L61.56,481.07 L61.95,480.52 L62.34,479.87 L62.74,477.92 L63.13,477.17 L63.53,476.40 L63.92,475.40 L64.31,474.13 L64.71,473.48 L65.10,472.69 L65.49,470.84 L65.89,469.13 L66.28,469.25 L66.67,466.67 L67.07,466.52 L67.46,464.18 L67.86,463.10 L68.25,462.41 L68.64,460.95 L69.04,458.19 L69.43,456.60 L69.82,455.72 L70.22,455.17 L70.61,454.30 L71.00,452.88 L71.40,451.87 L71.79,450.96 L72.19,451.26 L72.58,449.45 L72.97,448.61 L73.37,448.96 L73.76,449.88 L74.15,449.46 L74.55,448.59 L74.94,449.24 L75.33,448.48 L75.73,449.38 L76.12,449.64 L76.52,451.17 L76.91,450.86 L77.30,451.01 L77.70,451.43 L78.09,452.54 L78.48,454.98 L78.88,455.71 L79.27,455.89 L79.66,458.46 L80.06,459.32 L80.45,459.90 L80.85,459.65 L81.24,461.13 L81.63,461.17 L82.03,461.69 L82.42,462.47 L82.81,464.55 L83.21,464.22 L83.60,464.85 L83.99,465.88 L84.39,466.55 L84.78,467.61 L85.18,468.98 L85.57,469.67 L85.96,471.28 L86.36,473.06 L86.75,473.93 L87.14,474.15 L87.54,476.13 L87.93,477.07 L88.32,477.64 L88.72,478.96 L89.11,479.95 L89.51,481.49 L89.90,482.62 L90.29,484.28 L90.69,485.30 L91.08,486.47 L91.47,487.18 L91.87,488.23 L92.26,489.57 L92.65,489.93 L93.05,491.08 L93.44,491.46 L93.84,492.26 L94.23,492.44 L94.62,493.14 L95.02,493.07 L95.41,493.84 L95.80,493.96 L96.20,494.54 L96.59,494.94 L96.98,495.00 L97.38,495.57 L97.77,495.75 L98.16,495.96 L98.56,496.08 L98.95,496.42 L99.35,496.85 L99.74,496.92 L100.13,496.98 L100.53,497.21 L100.92,497.51 L101.31,497.74 L101.71,497.90" fill="none" stroke="#dcbc92" stroke-width="1.35" stroke-linejoin="round"/>
<path d="M46.60,497.60 L46.99,497.56 L47.37,497.39 L47.76,497.44 L48.14,497.21 L48.53,497.29 L48.91,497.11 L49.30,497.03 L49.68,497.08 L50.07,496.92 L50.45,496.81 L50.84,496.83 L51.22,496.65 L51.61,496.51 L51.99,496.27 L52.38,496.40 L52.76,496.33 L53.15,496.08 L53.53,495.92 L53.92,495.84 L54.30,495.52 L54.69,495.70 L55.08,495.43 L55.46,495.30 L55.85,495.28 L56.23,495.00 L56.62,494.84 L57.00,494.71 L57.39,494.32 L57.77,494.01 L58.16,493.82 L58.54,494.05 L58.93,493.75 L59.31,493.17 L59.70,493.48 L60.08,493.24 L60.47,493.01 L60.85,492.13 L61.24,492.16 L61.62,491.92 L62.01,491.86 L62.40,490.95 L62.78,490.49 L63.17,490.18 L63.55,489.26 L63.94,488.68 L64.32,487.90 L64.71,486.89 L65.09,485.52 L65.48,484.34 L65.86,482.67 L66.25,481.57 L66.63,480.04 L67.02,477.35 L67.40,475.78 L67.79,474.19 L68.17,473.25 L68.56,471.53 L68.94,469.79 L69.33,467.65 L69.72,466.55 L70.10,464.15 L70.49,461.87 L70.87,458.95 L71.26,457.09 L71.64,454.29 L72.03,449.84 L72.41,445.57 L72.80,444.18 L73.18,440.37 L73.57,438.96 L73.95,436.61 L74.34,434.19 L74.72,433.84 L75.11,431.54 L75.49,429.98 L75.88,429.56 L76.26,428.21 L76.65,428.07 L77.03,429.94 L77.42,429.57 L77.81,430.68 L78.19,432.37 L78.58,433.85 L78.96,435.46 L79.35,436.66 L79.73,438.35 L80.12,440.78 L80.50,441.47 L80.89,443.08 L81.27,445.48 L81.66,446.46 L82.04,449.54 L82.43,450.80 L82.81,452.38 L83.20,453.88 L83.58,456.22 L83.97,456.79 L84.35,459.28 L84.74,459.96 L85.12,461.52 L85.51,462.44 L85.90,463.48 L86.28,464.58 L86.67,467.15 L87.05,467.38 L87.44,469.48 L87.82,470.91 L88.21,473.22 L88.59,473.83 L88.98,476.62 L89.36,478.43 L89.75,480.17 L90.13,481.85 L90.52,483.18 L90.90,484.54 L91.29,485.59 L91.67,487.03 L92.06,487.83 L92.44,488.79 L92.83,489.79 L93.22,491.11 L93.60,491.64 L93.99,492.35 L94.37,493.06 L94.76,493.90 L95.14,494.59 L95.53,494.80 L95.91,495.29 L96.30,495.77 L96.68,495.92 L97.07,496.40 L97.45,496.36 L97.84,496.53 L98.22,496.71 L98.61,497.13 L98.99,497.15 L99.38,497.30 L99.76,497.60 L100.15,497.69 L100.53,497.90" fill="none" stroke="#b9c0a0" stroke-width="1.35" stroke-linejoin="round"/>
<path d="M77.09,497.90 L77.43,497.50 L77.78,497.08 L78.13,496.75 L78.48,496.27 L78.83,495.63 L79.18,495.31 L79.52,494.74 L79.87,494.12 L80.22,494.02 L80.57,492.95 L80.92,492.17 L81.27,491.30 L81.61,490.18 L81.96,488.71 L82.31,486.68 L82.66,484.86 L83.01,483.07 L83.36,480.64 L83.70,478.47 L84.05,476.56 L84.40,474.20 L84.75,471.26 L85.10,468.61 L85.45,466.65 L85.80,464.93 L86.14,462.74 L86.49,461.26 L86.84,460.19 L87.19,458.11 L87.54,456.86 L87.89,456.25 L88.23,455.57 L88.58,454.37 L88.93,453.04 L89.28,452.34 L89.63,452.62 L89.98,451.60 L90.32,452.07 L90.67,450.62 L91.02,450.64 L91.37,449.82 L91.72,449.60 L92.07,451.33 L92.41,449.66 L92.76,451.54 L93.11,450.28 L93.46,450.65 L93.81,452.64 L94.16,452.99 L94.50,453.80 L94.85,452.83 L95.20,453.66 L95.55,453.78 L95.90,454.59 L96.25,455.91 L96.60,455.54 L96.94,456.77 L97.29,457.25 L97.64,457.51 L97.99,457.44 L98.34,458.60 L98.69,458.60 L99.03,459.04 L99.38,459.09 L99.73,460.15 L100.08,460.71 L100.43,460.94 L100.78,461.59 L101.12,461.60 L101.47,463.19 L101.82,463.54 L102.17,464.27 L102.52,464.12 L102.87,463.90 L103.22,464.88 L103.56,465.40 L103.91,465.52 L104.26,466.39 L104.61,468.01 L104.96,468.95 L105.31,469.32 L105.65,470.72 L106.00,471.09 L106.35,472.81 L106.70,473.27 L107.05,473.69 L107.40,475.23 L107.74,476.25 L108.09,476.31 L108.44,477.93 L108.79,477.88 L109.14,479.14 L109.49,479.68 L109.83,481.01 L110.18,481.94 L110.53,483.12 L110.88,484.29 L111.23,484.29 L111.58,486.03 L111.92,487.10 L112.27,487.17 L112.62,488.37 L112.97,489.05 L113.32,489.39 L113.67,490.13 L114.02,491.07 L114.36,491.58 L114.71,491.83 L115.06,492.32 L115.41,493.11 L115.76,493.54 L116.11,493.80 L116.45,494.45 L116.80,494.40 L117.15,494.82 L117.50,495.36 L117.85,495.41 L118.20,495.64 L118.54,496.06 L118.89,496.11 L119.24,496.16 L119.59,496.46 L119.94,496.52 L120.29,496.82 L120.64,496.72 L120.98,496.94 L121.33,497.08 L121.68,497.31 L122.03,497.30 L122.38,497.45 L122.73,497.42 L123.07,497.53 L123.42,497.57 L123.77,497.61 L124.12,497.69 L124.47,497.71 L124.82,497.73 L125.16,497.82 L125.51,497.84 L125.86,497.90" fill="none" stroke="#30204a" stroke-width="1.5" stroke-linejoin="round"/>
<line x1="46.60" y1="404.00" x2="46.60" y2="498.40" stroke="#111" stroke-width="1.0"/>
<line x1="46.10" y1="497.90" x2="143.60" y2="497.90" stroke="#111" stroke-width="1.0"/>
<line x1="43.60" y1="497.90" x2="46.60" y2="497.90" stroke="#111" stroke-width="0.9"/>
<text transform="translate(40.20 500.70) scale(0.93 1)" font-size="8.3" text-anchor="end">0</text>
<line x1="45.00" y1="491.84" x2="46.60" y2="491.84" stroke="#111" stroke-width="0.9"/>
<line x1="45.00" y1="485.78" x2="46.60" y2="485.78" stroke="#111" stroke-width="0.9"/>
<line x1="45.00" y1="479.72" x2="46.60" y2="479.72" stroke="#111" stroke-width="0.9"/>
<line x1="45.00" y1="473.66" x2="46.60" y2="473.66" stroke="#111" stroke-width="0.9"/>
<line x1="43.60" y1="467.60" x2="46.60" y2="467.60" stroke="#111" stroke-width="0.9"/>
<text transform="translate(40.20 470.40) scale(0.93 1)" font-size="8.3" text-anchor="end">500</text>
<line x1="45.00" y1="461.54" x2="46.60" y2="461.54" stroke="#111" stroke-width="0.9"/>
<line x1="45.00" y1="455.48" x2="46.60" y2="455.48" stroke="#111" stroke-width="0.9"/>
<line x1="45.00" y1="449.42" x2="46.60" y2="449.42" stroke="#111" stroke-width="0.9"/>
<line x1="45.00" y1="443.36" x2="46.60" y2="443.36" stroke="#111" stroke-width="0.9"/>
<line x1="43.60" y1="437.30" x2="46.60" y2="437.30" stroke="#111" stroke-width="0.9"/>
<text transform="translate(40.20 440.10) scale(0.93 1)" font-size="8.3" text-anchor="end">1000</text>
<line x1="45.00" y1="431.24" x2="46.60" y2="431.24" stroke="#111" stroke-width="0.9"/>
<line x1="45.00" y1="425.18" x2="46.60" y2="425.18" stroke="#111" stroke-width="0.9"/>
<line x1="45.00" y1="419.12" x2="46.60" y2="419.12" stroke="#111" stroke-width="0.9"/>
<line x1="45.00" y1="413.06" x2="46.60" y2="413.06" stroke="#111" stroke-width="0.9"/>
<line x1="43.60" y1="407.00" x2="46.60" y2="407.00" stroke="#111" stroke-width="0.9"/>
<text transform="translate(40.20 409.80) scale(0.93 1)" font-size="8.3" text-anchor="end">1500</text>
<line x1="46.60" y1="497.90" x2="46.60" y2="500.90" stroke="#111" stroke-width="0.9"/>
<line x1="53.66" y1="497.90" x2="53.66" y2="499.60" stroke="#111" stroke-width="0.7"/>
<line x1="57.79" y1="497.90" x2="57.79" y2="499.60" stroke="#111" stroke-width="0.7"/>
<line x1="60.72" y1="497.90" x2="60.72" y2="499.60" stroke="#111" stroke-width="0.7"/>
<line x1="62.99" y1="497.90" x2="62.99" y2="499.60" stroke="#111" stroke-width="0.7"/>
<line x1="64.85" y1="497.90" x2="64.85" y2="499.60" stroke="#111" stroke-width="0.7"/>
<line x1="66.42" y1="497.90" x2="66.42" y2="499.60" stroke="#111" stroke-width="0.7"/>
<line x1="67.78" y1="497.90" x2="67.78" y2="499.60" stroke="#111" stroke-width="0.7"/>
<line x1="68.98" y1="497.90" x2="68.98" y2="499.60" stroke="#111" stroke-width="0.7"/>
<text transform="translate(46.60 512.60) scale(0.93 1)" font-size="8.3" text-anchor="middle">10<tspan font-size="5.6" dy="-3.3">0</tspan></text>
<line x1="70.05" y1="497.90" x2="70.05" y2="500.90" stroke="#111" stroke-width="0.9"/>
<line x1="77.11" y1="497.90" x2="77.11" y2="499.60" stroke="#111" stroke-width="0.7"/>
<line x1="81.24" y1="497.90" x2="81.24" y2="499.60" stroke="#111" stroke-width="0.7"/>
<line x1="84.17" y1="497.90" x2="84.17" y2="499.60" stroke="#111" stroke-width="0.7"/>
<line x1="86.44" y1="497.90" x2="86.44" y2="499.60" stroke="#111" stroke-width="0.7"/>
<line x1="88.30" y1="497.90" x2="88.30" y2="499.60" stroke="#111" stroke-width="0.7"/>
<line x1="89.87" y1="497.90" x2="89.87" y2="499.60" stroke="#111" stroke-width="0.7"/>
<line x1="91.23" y1="497.90" x2="91.23" y2="499.60" stroke="#111" stroke-width="0.7"/>
<line x1="92.43" y1="497.90" x2="92.43" y2="499.60" stroke="#111" stroke-width="0.7"/>
<text transform="translate(70.05 512.60) scale(0.93 1)" font-size="8.3" text-anchor="middle">10<tspan font-size="5.6" dy="-3.3">1</tspan></text>
<line x1="93.50" y1="497.90" x2="93.50" y2="500.90" stroke="#111" stroke-width="0.9"/>
<line x1="100.56" y1="497.90" x2="100.56" y2="499.60" stroke="#111" stroke-width="0.7"/>
<line x1="104.69" y1="497.90" x2="104.69" y2="499.60" stroke="#111" stroke-width="0.7"/>
<line x1="107.62" y1="497.90" x2="107.62" y2="499.60" stroke="#111" stroke-width="0.7"/>
<line x1="109.89" y1="497.90" x2="109.89" y2="499.60" stroke="#111" stroke-width="0.7"/>
<line x1="111.75" y1="497.90" x2="111.75" y2="499.60" stroke="#111" stroke-width="0.7"/>
<line x1="113.32" y1="497.90" x2="113.32" y2="499.60" stroke="#111" stroke-width="0.7"/>
<line x1="114.68" y1="497.90" x2="114.68" y2="499.60" stroke="#111" stroke-width="0.7"/>
<line x1="115.88" y1="497.90" x2="115.88" y2="499.60" stroke="#111" stroke-width="0.7"/>
<text transform="translate(93.50 512.60) scale(0.93 1)" font-size="8.3" text-anchor="middle">10<tspan font-size="5.6" dy="-3.3">2</tspan></text>
<line x1="116.95" y1="497.90" x2="116.95" y2="500.90" stroke="#111" stroke-width="0.9"/>
<line x1="124.01" y1="497.90" x2="124.01" y2="499.60" stroke="#111" stroke-width="0.7"/>
<line x1="128.14" y1="497.90" x2="128.14" y2="499.60" stroke="#111" stroke-width="0.7"/>
<line x1="131.07" y1="497.90" x2="131.07" y2="499.60" stroke="#111" stroke-width="0.7"/>
<line x1="133.34" y1="497.90" x2="133.34" y2="499.60" stroke="#111" stroke-width="0.7"/>
<line x1="135.20" y1="497.90" x2="135.20" y2="499.60" stroke="#111" stroke-width="0.7"/>
<line x1="136.77" y1="497.90" x2="136.77" y2="499.60" stroke="#111" stroke-width="0.7"/>
<line x1="138.13" y1="497.90" x2="138.13" y2="499.60" stroke="#111" stroke-width="0.7"/>
<line x1="139.33" y1="497.90" x2="139.33" y2="499.60" stroke="#111" stroke-width="0.7"/>
<text transform="translate(116.95 512.60) scale(0.93 1)" font-size="8.3" text-anchor="middle">10<tspan font-size="5.6" dy="-3.3">3</tspan></text>
<line x1="140.40" y1="497.90" x2="140.40" y2="500.90" stroke="#111" stroke-width="0.9"/>
<text transform="translate(140.40 512.60) scale(0.93 1)" font-size="8.3" text-anchor="middle">10<tspan font-size="5.6" dy="-3.3">4</tspan></text>
<text transform="translate(17.70 450.70) rotate(-90) scale(0.9 1)" font-size="9.3" text-anchor="middle">Platelet counts</text>
<g transform="translate(46.80 524.50)"><text transform="translate(0.00 0.00) scale(0.92 1)" font-size="9.3">Integrin</text><text transform="translate(30.50 0.00) scale(1.38 1)" font-size="8.742">α</text><text transform="translate(36.80 2.10) scale(0.95 1)" font-size="6.8">IIb</text><text transform="translate(43.35 0.00) scale(0.95 1)" font-size="9.3">β</text><text transform="translate(48.45 2.10) scale(1.0 1)" font-size="6.8">3</text><text transform="translate(55.30 0.00) scale(0.945 1)" font-size="9.3">activation</text></g>
<line x1="89.00" y1="398.60" x2="105.80" y2="398.60" stroke="#8e1e3e" stroke-width="1.8"/>
<text transform="translate(109.00 400.90) scale(0.95 1)" font-size="7.8" text-anchor="start">Resting</text>
<line x1="89.00" y1="409.70" x2="105.80" y2="409.70" stroke="#6c7290" stroke-width="1.5"/>
<text transform="translate(109.00 412.00) scale(0.95 1)" font-size="7.8" text-anchor="start">PE</text>
<line x1="89.00" y1="421.40" x2="105.80" y2="421.40" stroke="#dcbc92" stroke-width="1.5"/>
<text transform="translate(109.00 423.70) scale(0.95 1)" font-size="7.8" text-anchor="start">CEP-PE</text>
<line x1="89.00" y1="432.80" x2="105.80" y2="432.80" stroke="#b9c0a0" stroke-width="1.5"/>
<text transform="translate(109.00 435.10) scale(0.95 1)" font-size="7.8" text-anchor="start">ADP</text>
<line x1="89.00" y1="444.20" x2="105.80" y2="444.20" stroke="#30204a" stroke-width="1.5"/>
<text transform="translate(109.00 446.50) scale(0.95 1)" font-size="7.8" text-anchor="start">Thrombin</text>
<path d="M199.50,489.69 L199.87,488.73 L200.23,488.68 L200.60,488.01 L200.96,488.83 L201.33,487.72 L201.70,487.98 L202.06,486.62 L202.43,486.91 L202.79,486.21 L203.16,485.74 L203.53,486.36 L203.89,486.02 L204.26,484.46 L204.62,483.99 L204.99,484.19 L205.36,484.43 L205.72,483.98 L206.09,482.14 L206.45,481.82 L206.82,481.88 L207.19,480.78 L207.55,479.96 L207.92,480.90 L208.28,478.85 L208.65,477.72 L209.02,477.24 L209.38,476.47 L209.75,476.58 L210.11,475.34 L210.48,475.46 L210.85,472.94 L211.21,472.16 L211.58,471.62 L211.94,471.32 L212.31,469.83 L212.68,468.07 L213.04,465.53 L213.41,465.43 L213.77,463.16 L214.14,463.73 L214.51,462.24 L214.87,460.82 L215.24,459.11 L215.60,456.06 L215.97,455.78 L216.34,454.53 L216.70,452.24 L217.07,452.03 L217.43,449.93 L217.80,449.75 L218.17,448.62 L218.53,449.29 L218.90,448.89 L219.26,448.36 L219.63,446.47 L220.00,446.62 L220.36,447.97 L220.73,448.44 L221.09,450.10 L221.46,447.97 L221.83,449.17 L222.19,450.22 L222.56,451.59 L222.92,451.51 L223.29,451.82 L223.66,454.32 L224.02,455.66 L224.39,456.42 L224.75,458.08 L225.12,461.13 L225.49,462.65 L225.85,463.49 L226.22,464.25 L226.58,466.72 L226.95,469.34 L227.32,470.57 L227.68,472.51 L228.05,473.05 L228.41,476.00 L228.78,476.09 L229.15,479.01 L229.51,480.51 L229.88,481.84 L230.24,481.78 L230.61,482.51 L230.98,482.78 L231.34,483.60 L231.71,484.31 L232.07,485.43 L232.44,484.12 L232.81,485.23 L233.17,485.25 L233.54,485.35 L233.90,484.67 L234.27,484.56 L234.64,485.12 L235.00,485.21 L235.37,485.62 L235.73,484.66 L236.10,484.47 L236.47,485.44 L236.83,485.24 L237.20,484.41 L237.56,484.50 L237.93,485.50 L238.30,484.21 L238.66,484.77 L239.03,484.92 L239.39,485.72 L239.76,484.88 L240.13,485.91 L240.49,485.83 L240.86,485.53 L241.22,486.00 L241.59,487.25 L241.96,487.57 L242.32,487.71 L242.69,488.18 L243.05,487.54 L243.42,488.55 L243.79,489.21 L244.15,489.96 L244.52,490.42 L244.88,491.10 L245.25,491.35 L245.62,492.21 L245.98,492.24 L246.35,492.79 L246.71,493.31 L247.08,493.95 L247.45,494.92 L247.81,495.21 L248.18,495.39 L248.54,496.13 L248.91,496.40 L249.28,496.92 L249.64,496.97 L250.01,497.36 L250.37,497.53 L250.74,497.70 L250.74,497.70 L199.50,497.70 Z" fill="#ab0432" stroke="#8a0f2c" stroke-width="0.8"/>
<path d="M199.50,490.01 L199.86,489.38 L200.21,489.67 L200.57,489.42 L200.93,488.71 L201.29,488.36 L201.64,488.34 L202.00,487.74 L202.36,487.03 L202.72,486.56 L203.07,486.15 L203.43,485.90 L203.79,486.27 L204.14,485.56 L204.50,485.05 L204.86,485.08 L205.22,483.80 L205.57,483.91 L205.93,482.87 L206.29,482.50 L206.65,482.49 L207.00,481.88 L207.36,481.21 L207.72,480.96 L208.07,480.62 L208.43,479.48 L208.79,479.09 L209.15,478.38 L209.50,476.93 L209.86,476.15 L210.22,475.69 L210.58,475.25 L210.93,473.10 L211.29,472.74 L211.65,471.87 L212.00,469.68 L212.36,468.27 L212.72,468.20 L213.08,466.61 L213.43,464.96 L213.79,464.59 L214.15,463.97 L214.51,463.42 L214.86,462.70 L215.22,460.13 L215.58,459.25 L215.94,459.42 L216.29,457.52 L216.65,457.40 L217.01,455.34 L217.36,455.15 L217.72,453.64 L218.08,453.17 L218.44,453.39 L218.79,451.78 L219.15,451.10 L219.51,451.98 L219.87,451.77 L220.22,451.19 L220.58,450.36 L220.94,450.16 L221.29,451.77 L221.65,451.62 L222.01,452.76 L222.37,454.60 L222.72,455.30 L223.08,455.64 L223.44,457.52 L223.80,458.67 L224.15,459.46 L224.51,461.68 L224.87,462.22 L225.22,463.17 L225.58,464.26 L225.94,465.38 L226.30,467.53 L226.65,468.66 L227.01,470.13 L227.37,472.07 L227.73,472.28 L228.08,473.10 L228.44,474.53 L228.80,475.28 L229.15,475.72 L229.51,475.96 L229.87,476.41 L230.23,476.85 L230.58,476.18 L230.94,477.22 L231.30,477.62 L231.66,477.15 L232.01,478.14 L232.37,477.71 L232.73,477.42 L233.08,477.05 L233.44,477.72 L233.80,478.02 L234.16,476.71 L234.51,477.96 L234.87,477.35 L235.23,477.16 L235.59,476.45 L235.94,477.27 L236.30,477.39 L236.66,477.30 L237.01,477.17 L237.37,477.54 L237.73,476.68 L238.09,477.51 L238.44,477.62 L238.80,478.73 L239.16,478.78 L239.52,479.08 L239.87,480.61 L240.23,480.38 L240.59,481.90 L240.95,482.06 L241.30,482.55 L241.66,484.05 L242.02,484.61 L242.37,486.35 L242.73,487.51 L243.09,488.25 L243.45,489.68 L243.80,491.15 L244.16,491.92 L244.52,492.31 L244.88,493.04 L245.23,493.78 L245.59,493.86 L245.95,494.65 L246.30,494.83 L246.66,495.53 L247.02,496.01 L247.38,496.28 L247.73,496.49 L248.09,496.79 L248.45,497.15 L248.81,497.41 L249.16,497.52 L249.52,497.70" fill="none" stroke="#6c7290" stroke-width="1.0" stroke-linejoin="round"/>
<path d="M206.82,497.70 L207.17,497.67 L207.52,497.63 L207.87,497.63 L208.21,497.60 L208.56,497.45 L208.91,497.43 L209.26,497.47 L209.61,497.37 L209.96,497.43 L210.31,497.24 L210.65,497.23 L211.00,497.15 L211.35,497.15 L211.70,497.07 L212.05,496.89 L212.40,496.92 L212.75,496.88 L213.09,496.75 L213.44,496.34 L213.79,496.40 L214.14,496.30 L214.49,495.92 L214.84,495.89 L215.19,495.55 L215.53,495.15 L215.88,495.16 L216.23,494.80 L216.58,494.24 L216.93,493.97 L217.28,493.65 L217.63,493.84 L217.97,492.91 L218.32,492.82 L218.67,492.74 L219.02,491.77 L219.37,491.96 L219.72,490.72 L220.07,490.80 L220.41,489.98 L220.76,488.75 L221.11,487.63 L221.46,486.58 L221.81,485.18 L222.16,484.74 L222.51,482.77 L222.85,481.92 L223.20,479.76 L223.55,478.77 L223.90,477.25 L224.25,476.45 L224.60,473.47 L224.95,472.33 L225.29,470.22 L225.64,467.48 L225.99,464.34 L226.34,462.57 L226.69,459.68 L227.04,456.82 L227.39,454.97 L227.73,452.69 L228.08,449.14 L228.43,445.16 L228.78,441.71 L229.13,439.25 L229.48,434.78 L229.83,431.18 L230.17,428.78 L230.52,427.97 L230.87,426.95 L231.22,424.01 L231.57,424.97 L231.92,426.78 L232.27,426.61 L232.61,428.32 L232.96,429.68 L233.31,431.93 L233.66,432.76 L234.01,434.99 L234.36,436.67 L234.71,438.72 L235.05,439.84 L235.40,441.76 L235.75,445.29 L236.10,448.03 L236.45,449.89 L236.80,451.02 L237.15,453.91 L237.49,456.64 L237.84,457.10 L238.19,459.99 L238.54,462.76 L238.89,463.63 L239.24,466.10 L239.59,467.53 L239.93,469.48 L240.28,471.34 L240.63,472.98 L240.98,475.30 L241.33,476.21 L241.68,478.13 L242.03,479.37 L242.37,481.30 L242.72,482.12 L243.07,484.00 L243.42,484.25 L243.77,486.01 L244.12,486.50 L244.47,486.99 L244.81,487.71 L245.16,488.36 L245.51,489.38 L245.86,490.29 L246.21,490.11 L246.56,491.21 L246.91,491.30 L247.25,492.13 L247.60,492.57 L247.95,492.93 L248.30,493.33 L248.65,493.55 L249.00,494.01 L249.35,494.54 L249.69,494.61 L250.04,495.08 L250.39,494.94 L250.74,495.48 L251.09,495.59 L251.44,495.68 L251.79,495.97 L252.13,495.92 L252.48,496.13 L252.83,496.46 L253.18,496.58 L253.53,496.64 L253.88,496.87 L254.23,496.99 L254.57,497.22 L254.92,497.34 L255.27,497.51 L255.62,497.70" fill="none" stroke="#b9c0a0" stroke-width="1.35" stroke-linejoin="round"/>
<path d="M206.82,497.70 L207.32,497.53 L207.81,497.47 L208.31,497.28 L208.81,497.28 L209.30,497.16 L209.80,497.07 L210.30,496.77 L210.79,496.89 L211.29,496.73 L211.79,496.55 L212.28,496.34 L212.78,496.23 L213.28,496.29 L213.77,496.04 L214.27,495.75 L214.77,495.83 L215.26,495.66 L215.76,495.14 L216.26,495.31 L216.75,495.02 L217.25,494.68 L217.75,494.01 L218.24,493.96 L218.74,493.57 L219.24,493.13 L219.73,492.51 L220.23,492.71 L220.73,492.21 L221.22,491.66 L221.72,491.07 L222.22,491.07 L222.71,490.42 L223.21,489.91 L223.71,489.96 L224.20,489.34 L224.70,489.20 L225.20,488.03 L225.70,488.48 L226.19,487.94 L226.69,487.09 L227.19,487.06 L227.68,486.29 L228.18,486.10 L228.68,484.98 L229.17,484.99 L229.67,484.78 L230.17,484.52 L230.66,483.72 L231.16,482.92 L231.66,482.54 L232.15,482.11 L232.65,481.89 L233.15,480.91 L233.64,481.06 L234.14,480.31 L234.64,479.13 L235.13,478.59 L235.63,478.03 L236.13,476.29 L236.62,474.78 L237.12,473.75 L237.62,471.72 L238.11,469.19 L238.61,467.83 L239.11,465.77 L239.60,462.88 L240.10,460.96 L240.60,457.97 L241.09,454.33 L241.59,454.05 L242.09,451.15 L242.58,451.20 L243.08,449.27 L243.58,448.03 L244.07,448.32 L244.57,447.26 L245.07,447.81 L245.56,450.01 L246.06,451.28 L246.56,450.67 L247.05,451.95 L247.55,453.51 L248.05,455.58 L248.54,456.96 L249.04,457.01 L249.54,458.40 L250.03,460.14 L250.53,461.68 L251.03,463.09 L251.52,464.24 L252.02,465.46 L252.52,466.39 L253.01,467.93 L253.51,469.18 L254.01,470.42 L254.50,470.73 L255.00,471.28 L255.50,473.37 L255.99,473.42 L256.49,474.54 L256.99,476.07 L257.48,477.16 L257.98,477.20 L258.48,479.18 L258.98,480.31 L259.47,481.45 L259.97,481.67 L260.47,483.28 L260.96,484.74 L261.46,485.39 L261.96,486.00 L262.45,486.85 L262.95,487.96 L263.45,488.06 L263.94,488.95 L264.44,490.03 L264.94,490.66 L265.43,491.34 L265.93,492.09 L266.43,492.19 L266.92,492.90 L267.42,493.07 L267.92,493.36 L268.41,494.05 L268.91,494.42 L269.41,494.70 L269.90,494.95 L270.40,495.45 L270.90,495.56 L271.39,495.85 L271.89,496.17 L272.39,496.14 L272.88,496.41 L273.38,496.68 L273.88,496.98 L274.37,496.97 L274.87,497.22 L275.37,497.29 L275.86,497.51 L276.36,497.70" fill="none" stroke="#dcbc92" stroke-width="1.35" stroke-linejoin="round"/>
<path d="M232.44,497.70 L232.80,497.66 L233.15,497.57 L233.51,497.54 L233.87,497.52 L234.23,497.41 L234.58,497.44 L234.94,497.41 L235.30,497.37 L235.66,497.17 L236.01,497.14 L236.37,496.95 L236.73,496.44 L237.08,495.26 L237.44,494.35 L237.80,492.61 L238.16,491.00 L238.51,489.35 L238.87,488.14 L239.23,485.65 L239.59,484.21 L239.94,482.25 L240.30,480.46 L240.66,479.33 L241.01,477.25 L241.37,474.38 L241.73,473.09 L242.09,471.20 L242.44,469.15 L242.80,466.18 L243.16,464.61 L243.52,461.59 L243.87,461.35 L244.23,458.57 L244.59,455.88 L244.94,454.06 L245.30,451.72 L245.66,450.46 L246.02,448.69 L246.37,447.59 L246.73,447.38 L247.09,447.63 L247.45,447.81 L247.80,447.32 L248.16,447.84 L248.52,447.68 L248.88,447.09 L249.23,447.40 L249.59,447.81 L249.95,448.88 L250.30,447.48 L250.66,449.43 L251.02,449.70 L251.38,450.54 L251.73,450.62 L252.09,450.65 L252.45,450.83 L252.81,452.04 L253.16,451.88 L253.52,453.58 L253.88,453.91 L254.23,454.72 L254.59,454.02 L254.95,456.23 L255.31,456.59 L255.66,456.08 L256.02,457.66 L256.38,458.53 L256.74,458.48 L257.09,458.81 L257.45,459.33 L257.81,460.24 L258.16,460.51 L258.52,461.10 L258.88,461.80 L259.24,461.69 L259.59,462.70 L259.95,463.29 L260.31,462.53 L260.67,463.19 L261.02,464.70 L261.38,465.10 L261.74,466.55 L262.09,467.49 L262.45,467.55 L262.81,467.80 L263.17,470.21 L263.52,470.64 L263.88,471.16 L264.24,473.41 L264.60,473.55 L264.95,475.01 L265.31,475.23 L265.67,476.08 L266.02,476.98 L266.38,478.11 L266.74,480.01 L267.10,480.25 L267.45,481.35 L267.81,482.60 L268.17,483.63 L268.53,484.19 L268.88,485.07 L269.24,485.85 L269.60,486.00 L269.95,487.35 L270.31,487.32 L270.67,488.55 L271.03,488.59 L271.38,489.33 L271.74,489.88 L272.10,490.30 L272.46,491.05 L272.81,491.43 L273.17,491.72 L273.53,492.30 L273.89,492.24 L274.24,492.73 L274.60,493.13 L274.96,493.43 L275.31,494.07 L275.67,494.44 L276.03,494.66 L276.39,494.48 L276.74,494.92 L277.10,494.91 L277.46,495.43 L277.82,495.59 L278.17,495.66 L278.53,495.76 L278.89,496.10 L279.24,496.25 L279.60,496.45 L279.96,496.64 L280.32,496.59 L280.67,496.76 L281.03,497.05 L281.39,497.27 L281.75,497.29 L282.10,497.53 L282.46,497.70" fill="none" stroke="#30204a" stroke-width="1.5" stroke-linejoin="round"/>
<line x1="199.50" y1="398.55" x2="199.50" y2="498.20" stroke="#111" stroke-width="1.0"/>
<line x1="199.00" y1="497.70" x2="301.20" y2="497.70" stroke="#111" stroke-width="1.0"/>
<line x1="196.50" y1="497.70" x2="199.50" y2="497.70" stroke="#111" stroke-width="0.9"/>
<text transform="translate(193.10 500.50) scale(0.93 1)" font-size="8.3" text-anchor="end">0</text>
<line x1="197.90" y1="491.29" x2="199.50" y2="491.29" stroke="#111" stroke-width="0.9"/>
<line x1="197.90" y1="484.88" x2="199.50" y2="484.88" stroke="#111" stroke-width="0.9"/>
<line x1="197.90" y1="478.47" x2="199.50" y2="478.47" stroke="#111" stroke-width="0.9"/>
<line x1="197.90" y1="472.06" x2="199.50" y2="472.06" stroke="#111" stroke-width="0.9"/>
<line x1="196.50" y1="465.65" x2="199.50" y2="465.65" stroke="#111" stroke-width="0.9"/>
<text transform="translate(193.10 468.45) scale(0.93 1)" font-size="8.3" text-anchor="end">500</text>
<line x1="197.90" y1="459.24" x2="199.50" y2="459.24" stroke="#111" stroke-width="0.9"/>
<line x1="197.90" y1="452.83" x2="199.50" y2="452.83" stroke="#111" stroke-width="0.9"/>
<line x1="197.90" y1="446.42" x2="199.50" y2="446.42" stroke="#111" stroke-width="0.9"/>
<line x1="197.90" y1="440.01" x2="199.50" y2="440.01" stroke="#111" stroke-width="0.9"/>
<line x1="196.50" y1="433.60" x2="199.50" y2="433.60" stroke="#111" stroke-width="0.9"/>
<text transform="translate(193.10 436.40) scale(0.93 1)" font-size="8.3" text-anchor="end">1000</text>
<line x1="197.90" y1="427.19" x2="199.50" y2="427.19" stroke="#111" stroke-width="0.9"/>
<line x1="197.90" y1="420.78" x2="199.50" y2="420.78" stroke="#111" stroke-width="0.9"/>
<line x1="197.90" y1="414.37" x2="199.50" y2="414.37" stroke="#111" stroke-width="0.9"/>
<line x1="197.90" y1="407.96" x2="199.50" y2="407.96" stroke="#111" stroke-width="0.9"/>
<line x1="196.50" y1="401.55" x2="199.50" y2="401.55" stroke="#111" stroke-width="0.9"/>
<text transform="translate(193.10 404.35) scale(0.93 1)" font-size="8.3" text-anchor="end">1500</text>
<line x1="199.50" y1="497.70" x2="199.50" y2="500.70" stroke="#111" stroke-width="0.9"/>
<line x1="206.95" y1="497.70" x2="206.95" y2="499.40" stroke="#111" stroke-width="0.7"/>
<line x1="211.31" y1="497.70" x2="211.31" y2="499.40" stroke="#111" stroke-width="0.7"/>
<line x1="214.40" y1="497.70" x2="214.40" y2="499.40" stroke="#111" stroke-width="0.7"/>
<line x1="216.80" y1="497.70" x2="216.80" y2="499.40" stroke="#111" stroke-width="0.7"/>
<line x1="218.76" y1="497.70" x2="218.76" y2="499.40" stroke="#111" stroke-width="0.7"/>
<line x1="220.42" y1="497.70" x2="220.42" y2="499.40" stroke="#111" stroke-width="0.7"/>
<line x1="221.85" y1="497.70" x2="221.85" y2="499.40" stroke="#111" stroke-width="0.7"/>
<line x1="223.12" y1="497.70" x2="223.12" y2="499.40" stroke="#111" stroke-width="0.7"/>
<text transform="translate(199.50 511.10) scale(0.93 1)" font-size="8.3" text-anchor="middle">10<tspan font-size="5.6" dy="-3.3">0</tspan></text>
<line x1="224.25" y1="497.70" x2="224.25" y2="500.70" stroke="#111" stroke-width="0.9"/>
<line x1="231.70" y1="497.70" x2="231.70" y2="499.40" stroke="#111" stroke-width="0.7"/>
<line x1="236.06" y1="497.70" x2="236.06" y2="499.40" stroke="#111" stroke-width="0.7"/>
<line x1="239.15" y1="497.70" x2="239.15" y2="499.40" stroke="#111" stroke-width="0.7"/>
<line x1="241.55" y1="497.70" x2="241.55" y2="499.40" stroke="#111" stroke-width="0.7"/>
<line x1="243.51" y1="497.70" x2="243.51" y2="499.40" stroke="#111" stroke-width="0.7"/>
<line x1="245.17" y1="497.70" x2="245.17" y2="499.40" stroke="#111" stroke-width="0.7"/>
<line x1="246.60" y1="497.70" x2="246.60" y2="499.40" stroke="#111" stroke-width="0.7"/>
<line x1="247.87" y1="497.70" x2="247.87" y2="499.40" stroke="#111" stroke-width="0.7"/>
<text transform="translate(224.25 511.10) scale(0.93 1)" font-size="8.3" text-anchor="middle">10<tspan font-size="5.6" dy="-3.3">1</tspan></text>
<line x1="249.00" y1="497.70" x2="249.00" y2="500.70" stroke="#111" stroke-width="0.9"/>
<line x1="256.45" y1="497.70" x2="256.45" y2="499.40" stroke="#111" stroke-width="0.7"/>
<line x1="260.81" y1="497.70" x2="260.81" y2="499.40" stroke="#111" stroke-width="0.7"/>
<line x1="263.90" y1="497.70" x2="263.90" y2="499.40" stroke="#111" stroke-width="0.7"/>
<line x1="266.30" y1="497.70" x2="266.30" y2="499.40" stroke="#111" stroke-width="0.7"/>
<line x1="268.26" y1="497.70" x2="268.26" y2="499.40" stroke="#111" stroke-width="0.7"/>
<line x1="269.92" y1="497.70" x2="269.92" y2="499.40" stroke="#111" stroke-width="0.7"/>
<line x1="271.35" y1="497.70" x2="271.35" y2="499.40" stroke="#111" stroke-width="0.7"/>
<line x1="272.62" y1="497.70" x2="272.62" y2="499.40" stroke="#111" stroke-width="0.7"/>
<text transform="translate(249.00 511.10) scale(0.93 1)" font-size="8.3" text-anchor="middle">10<tspan font-size="5.6" dy="-3.3">2</tspan></text>
<line x1="273.75" y1="497.70" x2="273.75" y2="500.70" stroke="#111" stroke-width="0.9"/>
<line x1="281.20" y1="497.70" x2="281.20" y2="499.40" stroke="#111" stroke-width="0.7"/>
<line x1="285.56" y1="497.70" x2="285.56" y2="499.40" stroke="#111" stroke-width="0.7"/>
<line x1="288.65" y1="497.70" x2="288.65" y2="499.40" stroke="#111" stroke-width="0.7"/>
<line x1="291.05" y1="497.70" x2="291.05" y2="499.40" stroke="#111" stroke-width="0.7"/>
<line x1="293.01" y1="497.70" x2="293.01" y2="499.40" stroke="#111" stroke-width="0.7"/>
<line x1="294.67" y1="497.70" x2="294.67" y2="499.40" stroke="#111" stroke-width="0.7"/>
<line x1="296.10" y1="497.70" x2="296.10" y2="499.40" stroke="#111" stroke-width="0.7"/>
<line x1="297.37" y1="497.70" x2="297.37" y2="499.40" stroke="#111" stroke-width="0.7"/>
<text transform="translate(273.75 511.10) scale(0.93 1)" font-size="8.3" text-anchor="middle">10<tspan font-size="5.6" dy="-3.3">3</tspan></text>
<line x1="298.50" y1="497.70" x2="298.50" y2="500.70" stroke="#111" stroke-width="0.9"/>
<text transform="translate(298.50 511.10) scale(0.93 1)" font-size="8.3" text-anchor="middle">10<tspan font-size="5.6" dy="-3.3">4</tspan></text>
<text transform="translate(169.80 449.40) rotate(-90) scale(0.9 1)" font-size="9.3" text-anchor="middle">Platelet counts</text>
<g transform="translate(204.70 524.60)"><text transform="translate(0.00 0.00) scale(0.92 1)" font-size="9.3">Integrin</text><text transform="translate(30.50 0.00) scale(1.38 1)" font-size="8.742">α</text><text transform="translate(36.80 2.10) scale(0.95 1)" font-size="6.8">IIb</text><text transform="translate(43.35 0.00) scale(0.95 1)" font-size="9.3">β</text><text transform="translate(48.45 2.10) scale(1.0 1)" font-size="6.8">3</text><text transform="translate(55.30 0.00) scale(0.945 1)" font-size="9.3">activation</text></g>
<line x1="245.80" y1="387.80" x2="262.50" y2="387.80" stroke="#8e1e3e" stroke-width="1.8"/>
<text transform="translate(266.00 390.10) scale(0.95 1)" font-size="7.8" text-anchor="start">Resting</text>
<line x1="245.80" y1="399.00" x2="262.50" y2="399.00" stroke="#6c7290" stroke-width="1.5"/>
<text transform="translate(266.00 401.30) scale(0.95 1)" font-size="7.8" text-anchor="start">PE</text>
<line x1="245.80" y1="410.20" x2="262.50" y2="410.20" stroke="#dcbc92" stroke-width="1.5"/>
<text transform="translate(266.00 412.50) scale(0.95 1)" font-size="7.8" text-anchor="start">CHP-PE</text>
<line x1="245.80" y1="422.00" x2="262.50" y2="422.00" stroke="#b9c0a0" stroke-width="1.5"/>
<text transform="translate(266.00 424.30) scale(0.95 1)" font-size="7.8" text-anchor="start">ADP</text>
<line x1="245.80" y1="433.10" x2="262.50" y2="433.10" stroke="#30204a" stroke-width="1.5"/>
<text transform="translate(266.00 435.40) scale(0.95 1)" font-size="7.8" text-anchor="start">Thrombin</text>
<line x1="359.00" y1="397.80" x2="359.00" y2="498.80" stroke="#111" stroke-width="1.0"/>
<line x1="358.50" y1="498.30" x2="453.00" y2="498.30" stroke="#111" stroke-width="1.0"/>
<line x1="356.00" y1="498.30" x2="359.00" y2="498.30" stroke="#111" stroke-width="0.9"/>
<text transform="translate(353.00 501.10) scale(0.93 1)" font-size="8.3" text-anchor="end">0</text>
<line x1="356.00" y1="473.93" x2="359.00" y2="473.93" stroke="#111" stroke-width="0.9"/>
<text transform="translate(353.00 476.73) scale(0.93 1)" font-size="8.3" text-anchor="end">25</text>
<line x1="356.00" y1="449.55" x2="359.00" y2="449.55" stroke="#111" stroke-width="0.9"/>
<text transform="translate(353.00 452.35) scale(0.93 1)" font-size="8.3" text-anchor="end">50</text>
<line x1="356.00" y1="425.18" x2="359.00" y2="425.18" stroke="#111" stroke-width="0.9"/>
<text transform="translate(353.00 427.98) scale(0.93 1)" font-size="8.3" text-anchor="end">75</text>
<line x1="356.00" y1="400.80" x2="359.00" y2="400.80" stroke="#111" stroke-width="0.9"/>
<text transform="translate(353.00 403.60) scale(0.93 1)" font-size="8.3" text-anchor="end">100</text>
<rect x="363.40" y="483.68" width="6.6" height="14.62" fill="#000"/>
<line x1="366.70" y1="483.68" x2="366.70" y2="483.19" stroke="#000" stroke-width="1.2"/>
<line x1="365.10" y1="483.19" x2="368.30" y2="483.19" stroke="#000" stroke-width="1.1"/>
<text transform="translate(371.30 505.30) rotate(-50) scale(0.92 1)" font-size="8.2" text-anchor="end">Resting</text>
<rect x="379.20" y="480.26" width="6.6" height="18.04" fill="#000"/>
<line x1="382.50" y1="480.26" x2="382.50" y2="476.85" stroke="#000" stroke-width="1.2"/>
<line x1="380.90" y1="476.85" x2="384.10" y2="476.85" stroke="#000" stroke-width="1.1"/>
<text transform="translate(387.10 505.30) rotate(-50) scale(0.92 1)" font-size="8.2" text-anchor="end">PE</text>
<rect x="395.10" y="447.60" width="6.6" height="50.70" fill="#000"/>
<line x1="398.40" y1="447.60" x2="398.40" y2="445.16" stroke="#000" stroke-width="1.2"/>
<line x1="396.80" y1="445.16" x2="400.00" y2="445.16" stroke="#000" stroke-width="1.1"/>
<circle cx="394.45" cy="440.16" r="1.15" fill="#111"/>
<circle cx="398.40" cy="440.16" r="1.15" fill="#111"/>
<circle cx="402.35" cy="440.16" r="1.15" fill="#111"/>
<text transform="translate(403.00 505.30) rotate(-50) scale(0.92 1)" font-size="8.2" text-anchor="end">CEP-PE</text>
<rect x="411.00" y="415.43" width="6.6" height="82.88" fill="#000"/>
<line x1="414.30" y1="415.43" x2="414.30" y2="412.99" stroke="#000" stroke-width="1.2"/>
<line x1="412.70" y1="412.99" x2="415.90" y2="412.99" stroke="#000" stroke-width="1.1"/>
<circle cx="410.35" cy="407.99" r="1.15" fill="#111"/>
<circle cx="414.30" cy="407.99" r="1.15" fill="#111"/>
<circle cx="418.25" cy="407.99" r="1.15" fill="#111"/>
<text transform="translate(418.90 505.30) rotate(-50) scale(0.92 1)" font-size="8.2" text-anchor="end">CHP-PE</text>
<rect x="426.90" y="441.75" width="6.6" height="56.55" fill="#000"/>
<line x1="430.20" y1="441.75" x2="430.20" y2="439.31" stroke="#000" stroke-width="1.2"/>
<line x1="428.60" y1="439.31" x2="431.80" y2="439.31" stroke="#000" stroke-width="1.1"/>
<circle cx="426.25" cy="434.31" r="1.15" fill="#111"/>
<circle cx="430.20" cy="434.31" r="1.15" fill="#111"/>
<circle cx="434.15" cy="434.31" r="1.15" fill="#111"/>
<text transform="translate(434.80 505.30) rotate(-50) scale(0.92 1)" font-size="8.2" text-anchor="end">ADP</text>
<rect x="443.30" y="402.75" width="6.6" height="95.55" fill="#000"/>
<line x1="446.60" y1="402.75" x2="446.60" y2="402.26" stroke="#000" stroke-width="1.2"/>
<line x1="445.00" y1="402.26" x2="448.20" y2="402.26" stroke="#000" stroke-width="1.1"/>
<circle cx="442.65" cy="397.26" r="1.15" fill="#111"/>
<circle cx="446.60" cy="397.26" r="1.15" fill="#111"/>
<circle cx="450.55" cy="397.26" r="1.15" fill="#111"/>
<text transform="translate(451.20 505.30) rotate(-50) scale(0.92 1)" font-size="8.2" text-anchor="end">Thr</text>
<g transform="translate(327.20 493.04) rotate(-90)"><text transform="translate(0.00 0.00) scale(0.92 1)" font-size="9.672">Relative Integrin</text><text transform="translate(66.77 0.00) scale(1.16 1)" font-size="9.1884">α</text><text transform="translate(72.28 2.18) scale(1.0 1)" font-size="6.76">IIb</text><text transform="translate(80.60 0.00) scale(0.95 1)" font-size="9.672">β</text><text transform="translate(86.11 2.18) scale(1.0 1)" font-size="6.864">3</text></g>
<text transform="translate(339.60 447.90) rotate(-90) scale(0.92 1)" font-size="9.672" text-anchor="middle">activation</text>
<text transform="translate(7.20 15.10) scale(0.88 1)" font-size="12.4" text-anchor="start" font-weight="bold">A</text>
<text transform="translate(283.60 15.30) scale(0.88 1)" font-size="12.4" text-anchor="start" font-weight="bold">B</text>
<text transform="translate(8.80 199.80) scale(0.88 1)" font-size="12.4" text-anchor="start" font-weight="bold">C</text>
<text transform="translate(164.40 199.60) scale(0.88 1)" font-size="12.4" text-anchor="start" font-weight="bold">D</text>
<text transform="translate(8.90 377.60) scale(0.88 1)" font-size="12.4" text-anchor="start" font-weight="bold">E</text>
<text transform="translate(164.50 377.60) scale(0.88 1)" font-size="12.4" text-anchor="start" font-weight="bold">F</text>
<rect x="0.5" y="0.5" width="519" height="533" fill="none" stroke="#000" stroke-width="1.2"/>
</svg>
</body></html>
